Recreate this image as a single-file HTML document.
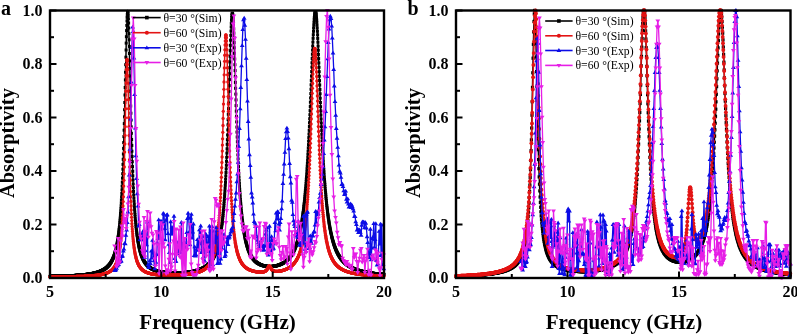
<!DOCTYPE html>
<html><head><meta charset="utf-8"><style>
html,body{margin:0;padding:0;background:#fff;}
svg{display:block;will-change:transform}
text{font-family:"Liberation Serif",serif;fill:#000}
.tl{font-size:16px;font-weight:bold}
.al{font-size:21px;font-weight:bold}
.al2{font-size:20.4px;font-weight:bold}
.pl{font-size:20px;font-weight:bold}
.lg{font-size:11.7px}
</style></head><body>
<svg width="797" height="334" viewBox="0 0 797 334">
<rect width="797" height="334" fill="#fff"/>
<defs><marker id="m_sq" markerUnits="userSpaceOnUse" markerWidth="1" markerHeight="1" refX="0" refY="0" overflow="visible"><rect x="-1.5" y="-1.5" width="3.0" height="3.0" fill="#000"/></marker><marker id="m_ci" markerUnits="userSpaceOnUse" markerWidth="1" markerHeight="1" refX="0" refY="0" overflow="visible"><circle r="1.65" fill="#e31414"/></marker><marker id="m_sqb" markerUnits="userSpaceOnUse" markerWidth="1" markerHeight="1" refX="0" refY="0" overflow="visible"><rect x="-1.6" y="-1.6" width="3.2" height="3.2" fill="#000"/></marker><marker id="m_cib" markerUnits="userSpaceOnUse" markerWidth="1" markerHeight="1" refX="0" refY="0" overflow="visible"><circle r="1.95" fill="#e31414"/></marker><marker id="m_up" markerUnits="userSpaceOnUse" markerWidth="1" markerHeight="1" refX="0" refY="0" overflow="visible"><path d="M0,-2.3l2.4,3.9h-4.8z" fill="#0c0ce6"/></marker><marker id="m_dn" markerUnits="userSpaceOnUse" markerWidth="1" markerHeight="1" refX="0" refY="0" overflow="visible"><path d="M0,2.3l2.4,-3.9h-4.8z" fill="#e61ee6"/></marker><clipPath id="ca"><rect x="50.0" y="9.5" width="334.0" height="268.5"/></clipPath>
<clipPath id="cb"><rect x="456.0" y="9.5" width="334.5" height="268.5"/></clipPath></defs>
<g>
<path d="M50,276.4l.2,0 .2,0 .1,0 .2,0 .2,0 .2,0 .1,-.1 .2,0 .2,0 .2,0 .2,0 .1,0 .2,0 .2,0 .2,0 .2,0 .1,0 .2,0 .2,0 .2,0 .1,0 .2,0 .2,0 .2,0 .2,0 .1,0 .2,0 .2,0 .2,0 .1,-.1 .2,0 .2,0 .2,0 .2,0 .1,0 .2,0 .2,0 .2,0 .1,0 .2,0 .2,0 .2,0 .2,0 .1,0 .2,0 .2,0 .2,0 .2,0 .1,0 .2,-.1 .2,0 .2,0 .1,0 .2,0 .2,0 .2,0 .2,0 .1,0 .2,0 .2,0 .2,0 .1,0 .2,0 .2,0 .2,0 .2,0 .1,0 .2,-.1 .2,0 .2,0 .1,0 .2,0 .2,0 .2,0 .2,0 .1,0 .2,0 .2,0 .2,0 .2,0 .1,0 .2,0 .2,-.1 .2,0 .1,0 .2,0 .2,0 .2,0 .2,0 .1,0 .2,0 .2,0 .2,0 .1,0 .2,0 .2,0 .2,-.1 .2,0 .1,0 .2,0 .2,0 .2,0 .1,0 .2,0 .2,0 .2,0 .2,0 .1,0 .2,0 .2,-.1 .2,0 .2,0 .1,0 .2,0 .2,0 .2,0 .1,0 .2,0 .2,0 .2,0 .2,-.1 .1,0 .2,0 .2,0 .2,0 .1,0 .2,0 .2,0 .2,0 .2,0 .1,-.1 .2,0 .2,0 .2,0 .1,0 .2,0 .2,0 .2,0 .2,0 .1,0 .2,-.1 .2,0 .2,0 .2,0 .1,0 .2,0 .2,0 .2,0 .1,-.1 .2,0 .2,0 .2,0 .2,0 .1,0 .2,0 .2,0 .2,-.1 .1,0 .2,0 .2,0 .2,0 .2,0 .1,0 .2,-.1 .2,0 .2,0 .1,0 .2,0 .2,0 .2,0 .2,-.1 .1,0 .2,0 .2,0 .2,0 .2,0 .1,0 .2,-.1 .2,0 .2,0 .1,0 .2,0 .2,0 .2,-.1 .2,0 .1,0 .2,0 .2,0 .2,-.1 .1,0 .2,0 .2,0 .2,0 .2,-.1 .1,0 .2,0 .2,0 .2,0 .1,-.1 .2,0 .2,0 .2,0 .2,0 .1,-.1 .2,0 .2,0 .2,0 .2,-.1 .1,0 .2,0 .2,0 .2,0 .1,-.1 .2,0 .2,0 .2,0 .2,-.1 .1,0 .2,0 .2,-.1 .2,0 .1,0 .2,0 .2,-.1 .2,0 .2,0 .1,-.1 .2,0 .2,0 .2,0 .1,-.1 .2,0 .2,0 .2,-.1 .2,0 .1,0 .2,-.1 .2,0 .2,0 .2,-.1 .1,0 .2,-.1 .2,0 .2,0 .1,-.1 .2,0 .2,0 .2,-.1 .2,0 .1,-.1 .2,0 .2,0 .2,-.1 .1,0 .2,-.1 .2,0 .2,-.1 .2,0 .1,-.1 .2,0 .2,-.1 .2,0 .1,-.1 .2,0 .2,-.1 .2,0 .2,-.1 .1,0 .2,-.1 .2,0 .2,-.1 .2,-.1 .1,0 .2,-.1 .2,0 .2,-.1 .1,-.1 .2,0 .2,-.1 .2,-.1 .2,0 .1,-.1 .2,-.1 .2,-.1 .2,0 .1,-.1 .2,-.1 .2,-.1 .2,-.1 .2,0 .1,-.1 .2,-.1 .2,-.1 .2,-.1 .1,-.1 .2,-.1 .2,-.1 .2,-.1 .2,-.1 .1,-.1 .2,-.1 .2,-.1 .2,-.1 .2,-.1 .1,-.1 .2,-.1 .2,-.1 .2,-.1 .1,-.2 .2,-.1 .2,-.1 .2,-.2 .2,-.1 .1,-.1 .2,-.2 .2,-.1 .2,-.2 .1,-.1 .2,-.2 .2,-.1 .2,-.2 .2,-.2 .1,-.1 .2,-.2 .2,-.2 .2,-.2 .1,-.2 .2,-.1 .2,-.2 .2,-.2 .2,-.3 .1,-.2 .2,-.2 .2,-.2 .2,-.3 .2,-.2 .1,-.2 .2,-.3 .2,-.3 .2,-.2 .1,-.3 .2,-.3 .2,-.3 .2,-.3 .2,-.3 .1,-.3 .2,-.3 .2,-.4 .2,-.3 .1,-.4 .2,-.4 .2,-.4 .2,-.4 .2,-.4 .1,-.4 .2,-.4 .2,-.5 .2,-.5 .1,-.4 .2,-.5 .2,-.6 .2,-.5 .2,-.6 .1,-.6 .2,-.6 .2,-.6 .2,-.6 .2,-.7 .1,-.7 .2,-.7 .2,-.8 .2,-.8 .1,-.8 .2,-.9 .2,-.9 .2,-.9 .2,-1 .1,-1 .2,-1 .2,-1.1 .2,-1.2 .1,-1.2 .2,-1.2 .2,-1.3 .2,-1.4 .2,-1.4 .1,-1.5 .2,-1.6 .2,-1.7 .2,-1.7 .2,-1.8 .1,-1.9 .2,-2 .2,-2.1 .2,-2.2 .1,-2.4 .2,-2.4 .2,-2.6 .2,-2.7 .2,-2.9 .1,-3 .2,-3.2 .2,-3.3 .2,-3.6 .1,-3.7 .2,-3.9 .2,-4.1 .2,-4.4 .2,-4.5 .1,-4.8 .2,-5.1 .2,-5.3 .2,-5.6 .1,-5.8 .2,-6 .2,-6.4 .2,-6.6 .2,-6.8 .1,-7.1 .2,-7.2 .2,-7.5 .2,-7.5 .2,-7.6 .1,-7.7 .2,-7.5 .2,-7.5 .2,-7.2 .1,-6.9 .2,-6.4 .2,-6.1 .2,-5.2 .2,-4.5 .1,-3.6 .2,-2.9 .2,-1.9 .2,-.7 .1,.3 .2,1.3 .2,2.3 .2,3.1 .2,4.2 .1,5 .2,5.6 .2,6.2 .2,6.6 .1,7.1 .2,7.4 .2,7.5 .2,7.6 .2,7.6 .1,7.6 .2,7.5 .2,7.3 .2,7.2 .2,6.9 .1,6.7 .2,6.5 .2,6.2 .2,5.9 .1,5.8 .2,5.3 .2,5.2 .2,4.9 .2,4.7 .1,4.5 .2,4.2 .2,4 .2,3.8 .1,3.6 .2,3.5 .2,3.2 .2,3.1 .2,2.9 .1,2.8 .2,2.7 .2,2.5 .2,2.4 .1,2.2 .2,2.2 .2,2.1 .2,1.9 .2,1.8 .1,1.8 .2,1.7 .2,1.6 .2,1.5 .2,1.5 .1,1.4 .2,1.3 .2,1.3 .2,1.2 .1,1.2 .2,1.1 .2,1.1 .2,1 .2,1 .1,.9 .2,.9 .2,.9 .2,.8 .1,.8 .2,.8 .2,.7 .2,.7 .2,.7 .1,.7 .2,.6 .2,.6 .2,.6 .1,.6 .2,.5 .2,.6 .2,.5 .2,.5 .1,.4 .2,.5 .2,.4 .2,.4 .2,.5 .1,.4 .2,.3 .2,.4 .2,.4 .1,.3 .2,.4 .2,.3 .2,.3 .2,.3 .1,.3 .2,.3 .2,.3 .2,.3 .1,.2 .2,.3 .2,.3 .2,.2 .2,.2 .1,.3 .2,.2 .2,.2 .2,.2 .1,.2 .2,.2 .2,.2 .2,.2 .2,.2 .1,.2 .2,.1 .2,.2 .2,.2 .2,.1 .1,.2 .2,.2 .2,.1 .2,.2 .1,.1 .2,.1 .2,.2 .2,.1 .2,.1 .1,.2 .2,.1 .2,.1 .2,.1 .1,.1 .2,.1 .2,.1 .2,.2 .2,.1 .1,.1 .2,.1 .2,.1 .2,.1 .1,0 .2,.1 .2,.1 .2,.1 .2,.1 .1,.1 .2,.1 .2,0 .2,.1 .2,.1 .1,.1 .2,0 .2,.1 .2,.1 .1,0 .2,.1 .2,.1 .2,0 .2,.1 .1,.1 .2,0 .2,.1 .2,0 .1,.1 .2,0 .2,.1 .2,.1 .2,0 .1,.1 .2,0 .2,.1 .2,0 .1,0 .2,.1 .2,0 .2,.1 .2,0 .1,.1 .2,0 .2,0 .2,.1 .2,0 .1,.1 .2,0 .2,0 .2,.1 .1,0 .2,0 .2,.1 .2,0 .2,0 .1,.1 .2,0 .2,0 .2,.1 .1,0 .2,0 .2,0 .2,.1 .2,0 .1,0 .2,0 .2,.1 .2,0 .1,0 .2,0 .2,.1 .2,0 .2,0 .1,0 .2,0 .2,.1 .2,0 .2,0 .1,0 .2,0 .2,.1 .2,0 .1,0 .2,0 .2,0 .2,0 .2,.1 .1,0 .2,0 .2,0 .2,0 .1,0 .2,0 .2,0 .2,.1 .2,0 .1,0 .2,0 .2,0 .2,0 .1,0 .2,0 .2,0 .2,.1 .2,0 .1,0 .2,0 .2,0 .2,0 .2,0 .1,0 .2,0 .2,0 .2,0 .1,0 .2,0 .2,0 .2,0 .2,0 .1,0 .2,0 .2,.1 .2,0 .1,0 .2,0 .2,0 .2,0 .2,0 .1,0 .2,0 .2,0 .2,0 .1,0 .2,0 .2,0 .2,0 .2,0 .1,0 .2,0 .2,0 .2,0 .2,0 .1,-.1 .2,0 .2,0 .2,0 .1,0 .2,0 .2,0 .2,0 .2,0 .1,0 .2,0 .2,0 .2,0 .1,0 .2,0 .2,0 .2,0 .2,0 .1,-.1 .2,0 .2,0 .2,0 .1,0 .2,0 .2,0 .2,0 .2,0 .1,0 .2,0 .2,-.1 .2,0 .2,0 .1,0 .2,0 .2,0 .2,0 .1,0 .2,-.1 .2,0 .2,0 .2,0 .1,0 .2,0 .2,0 .2,-.1 .1,0 .2,0 .2,0 .2,0 .2,0 .1,-.1 .2,0 .2,0 .2,0 .2,0 .1,-.1 .2,0 .2,0 .2,0 .1,0 .2,-.1 .2,0 .2,0 .2,0 .1,-.1 .2,0 .2,0 .2,0 .1,0 .2,-.1 .2,0 .2,0 .2,-.1 .1,0 .2,0 .2,0 .2,-.1 .1,0 .2,0 .2,0 .2,-.1 .2,0 .1,0 .2,-.1 .2,0 .2,0 .2,-.1 .1,0 .2,0 .2,-.1 .2,0 .1,0 .2,-.1 .2,0 .2,-.1 .2,0 .1,0 .2,-.1 .2,0 .2,0 .1,-.1 .2,0 .2,-.1 .2,0 .2,-.1 .1,0 .2,-.1 .2,0 .2,0 .1,-.1 .2,0 .2,-.1 .2,0 .2,-.1 .1,0 .2,-.1 .2,0 .2,-.1 .2,-.1 .1,0 .2,-.1 .2,0 .2,-.1 .1,0 .2,-.1 .2,-.1 .2,0 .2,-.1 .1,-.1 .2,0 .2,-.1 .2,-.1 .1,0 .2,-.1 .2,-.1 .2,0 .2,-.1 .1,-.1 .2,-.1 .2,0 .2,-.1 .1,-.1 .2,-.1 .2,-.1 .2,-.1 .2,0 .1,-.1 .2,-.1 .2,-.1 .2,-.1 .2,-.1 .1,-.1 .2,-.1 .2,-.1 .2,-.1 .1,-.1 .2,-.1 .2,-.1 .2,-.1 .2,-.1 .1,-.2 .2,-.1 .2,-.1 .2,-.1 .1,-.1 .2,-.2 .2,-.1 .2,-.1 .2,-.2 .1,-.1 .2,-.1 .2,-.2 .2,-.1 .1,-.2 .2,-.1 .2,-.2 .2,-.1 .2,-.2 .1,-.2 .2,-.1 .2,-.2 .2,-.2 .2,-.2 .1,-.1 .2,-.2 .2,-.2 .2,-.2 .1,-.2 .2,-.2 .2,-.2 .2,-.2 .2,-.3 .1,-.2 .2,-.2 .2,-.3 .2,-.2 .1,-.2 .2,-.3 .2,-.2 .2,-.3 .2,-.3 .1,-.3 .2,-.2 .2,-.3 .2,-.3 .1,-.3 .2,-.4 .2,-.3 .2,-.3 .2,-.4 .1,-.3 .2,-.4 .2,-.3 .2,-.4 .2,-.4 .1,-.4 .2,-.4 .2,-.4 .2,-.5 .1,-.4 .2,-.5 .2,-.5 .2,-.5 .2,-.5 .1,-.5 .2,-.5 .2,-.6 .2,-.5 .1,-.6 .2,-.6 .2,-.6 .2,-.7 .2,-.6 .1,-.7 .2,-.7 .2,-.8 .2,-.7 .1,-.8 .2,-.8 .2,-.8 .2,-.9 .2,-.9 .1,-.9 .2,-.9 .2,-1 .2,-1 .2,-1.1 .1,-1.1 .2,-1.1 .2,-1.2 .2,-1.2 .1,-1.3 .2,-1.3 .2,-1.4 .2,-1.4 .2,-1.5 .1,-1.5 .2,-1.6 .2,-1.7 .2,-1.7 .1,-1.8 .2,-1.9 .2,-1.9 .2,-2 .2,-2.2 .1,-2.1 .2,-2.3 .2,-2.4 .2,-2.5 .1,-2.6 .2,-2.7 .2,-2.8 .2,-2.9 .2,-3 .1,-3.2 .2,-3.3 .2,-3.4 .2,-3.6 .2,-3.7 .1,-3.9 .2,-4 .2,-4.2 .2,-4.3 .1,-4.5 .2,-4.6 .2,-4.8 .2,-5 .2,-5.1 .1,-5.2 .2,-5.4 .2,-5.6 .2,-5.6 .1,-5.7 .2,-5.9 .2,-5.8 .2,-6 .2,-5.9 .1,-5.9 .2,-5.8 .2,-5.7 .2,-5.6 .1,-5.3 .2,-5.2 .2,-4.8 .2,-4.4 .2,-4.1 .1,-3.6 .2,-3.1 .2,-2.7 .2,-1.9 .2,-1.4 .1,-.8 .2,-.2 .2,.4 .2,1.2 .1,1.7 .2,2.3 .2,2.8 .2,3.3 .2,3.9 .1,4.3 .2,4.6 .2,4.9 .2,5.2 .1,5.5 .2,5.7 .2,5.7 .2,5.9 .2,5.9 .1,5.9 .2,5.9 .2,5.8 .2,5.8 .1,5.7 .2,5.5 .2,5.5 .2,5.3 .2,5.2 .1,5 .2,4.9 .2,4.7 .2,4.5 .2,4.4 .1,4.3 .2,4 .2,3.9 .2,3.8 .1,3.7 .2,3.5 .2,3.3 .2,3.2 .2,3.1 .1,3 .2,2.8 .2,2.8 .2,2.6 .1,2.5 .2,2.4 .2,2.3 .2,2.2 .2,2.2 .1,2 .2,2 .2,1.9 .2,1.8 .1,1.7 .2,1.7 .2,1.6 .2,1.6 .2,1.5 .1,1.4 .2,1.4 .2,1.3 .2,1.3 .2,1.2 .1,1.2 .2,1.2 .2,1.1 .2,1 .1,1.1 .2,1 .2,.9 .2,.9 .2,.9 .1,.9 .2,.8 .2,.8 .2,.8 .1,.7 .2,.8 .2,.7 .2,.6 .2,.7 .1,.6 .2,.7 .2,.5 .2,.6 .1,.6 .2,.5 .2,.6 .2,.5 .2,.5 .1,.4 .2,.5 .2,.5 .2,.4 .2,.4 .1,.4 .2,.4 .2,.4 .2,.4 .1,.4 .2,.3 .2,.4 .2,.3 .2,.3 .1,.4 .2,.3 .2,.3 .2,.3 .1,.2 .2,.3 .2,.3 .2,.3 .2,.2 .1,.3 .2,.2 .2,.2 .2,.3 .2,.2 .1,.2 .2,.2 .2,.2 .2,.2 .1,.2 .2,.2 .2,.2 .2,.2 .2,.2 .1,.2 .2,.1 .2,.2 .2,.1 .1,.2 .2,.2 .2,.1 .2,.2 .2,.1 .1,.1 .2,.2 .2,.1 .2,.1 .1,.2 .2,.1 .2,.1 .2,.1 .2,.1 .1,.1 .2,.1 .2,.1 .2,.1 .2,.1 .1,.1 .2,.1 .2,.1 .2,.1 .1,.1 .2,.1 .2,.1 .2,0 .2,.1 .1,.1 .2,.1 .2,0 .2,.1 .1,.1 .2,0 .2,.1 .2,.1 .2,0 .1,.1 .2,0 .2,.1 .2,.1 .1,0 .2,.1 .2,0 .2,.1 .2,0 .1,0 .2,.1 .2,0 .2,.1 .2,0 .1,0 .2,.1 .2,0 .2,0 .1,.1 .2,0 .2,0 .2,0 .2,.1 .1,0 .2,0 .2,0 .2,.1 .1,0 .2,0 .2,0 .2,0 .2,0 .1,.1 .2,0 .2,0 .2,0 .1,0 .2,0 .2,0 .2,0 .2,0 .1,0 .2,0 .2,0 .2,0 .2,0 .1,0 .2,0 .2,0 .2,0 .1,0 .2,0 .2,0 .2,-.1 .2,0 .1,0 .2,0 .2,0 .2,0 .1,0 .2,-.1 .2,0 .2,0 .2,0 .1,-.1 .2,0 .2,0 .2,0 .1,-.1 .2,0 .2,0 .2,-.1 .2,0 .1,0 .2,-.1 .2,0 .2,0 .2,-.1 .1,0 .2,-.1 .2,0 .2,-.1 .1,0 .2,0 .2,-.1 .2,0 .2,-.1 .1,0 .2,-.1 .2,-.1 .2,0 .1,-.1 .2,0 .2,-.1 .2,-.1 .2,0 .1,-.1 .2,-.1 .2,0 .2,-.1 .1,-.1 .2,0 .2,-.1 .2,-.1 .2,-.1 .1,0 .2,-.1 .2,-.1 .2,-.1 .2,-.1 .1,-.1 .2,-.1 .2,-.1 .2,-.1 .1,-.1 .2,0 .2,-.2 .2,-.1 .2,-.1 .1,-.1 .2,-.1 .2,-.1 .2,-.1 .1,-.1 .2,-.1 .2,-.2 .2,-.1 .2,-.1 .1,-.1 .2,-.2 .2,-.1 .2,-.1 .1,-.2 .2,-.1 .2,-.2 .2,-.1 .2,-.2 .1,-.1 .2,-.2 .2,-.1 .2,-.2 .2,-.2 .1,-.1 .2,-.2 .2,-.2 .2,-.2 .1,-.1 .2,-.2 .2,-.2 .2,-.2 .2,-.2 .1,-.2 .2,-.2 .2,-.2 .2,-.2 .1,-.3 .2,-.2 .2,-.2 .2,-.3 .2,-.2 .1,-.2 .2,-.3 .2,-.3 .2,-.2 .1,-.3 .2,-.3 .2,-.2 .2,-.3 .2,-.3 .1,-.3 .2,-.3 .2,-.3 .2,-.3 .2,-.4 .1,-.3 .2,-.3 .2,-.4 .2,-.3 .1,-.4 .2,-.4 .2,-.3 .2,-.4 .2,-.4 .1,-.4 .2,-.5 .2,-.4 .2,-.4 .1,-.5 .2,-.4 .2,-.5 .2,-.5 .2,-.5 .1,-.5 .2,-.5 .2,-.5 .2,-.6 .1,-.5 .2,-.6 .2,-.6 .2,-.6 .2,-.6 .1,-.6 .2,-.7 .2,-.6 .2,-.7 .2,-.7 .1,-.7 .2,-.8 .2,-.7 .2,-.8 .1,-.8 .2,-.8 .2,-.9 .2,-.8 .2,-.9 .1,-.9 .2,-1 .2,-1 .2,-.9 .1,-1.1 .2,-1 .2,-1.1 .2,-1.1 .2,-1.2 .1,-1.2 .2,-1.2 .2,-1.2 .2,-1.3 .1,-1.4 .2,-1.3 .2,-1.5 .2,-1.4 .2,-1.5 .1,-1.6 .2,-1.6 .2,-1.6 .2,-1.7 .2,-1.7 .1,-1.8 .2,-1.9 .2,-1.9 .2,-2 .1,-2 .2,-2.1 .2,-2.2 .2,-2.2 .2,-2.3 .1,-2.4 .2,-2.4 .2,-2.5 .2,-2.6 .1,-2.7 .2,-2.7 .2,-2.8 .2,-3 .2,-3 .1,-3.1 .2,-3.1 .2,-3.3 .2,-3.3 .1,-3.5 .2,-3.5 .2,-3.6 .2,-3.7 .2,-3.8 .1,-3.8 .2,-4 .2,-4 .2,-4.1 .2,-4.1 .1,-4.3 .2,-4.3 .2,-4.3 .2,-4.4 .1,-4.4 .2,-4.4 .2,-4.4 .2,-4.5 .2,-4.4 .1,-4.3 .2,-4.3 .2,-4.3 .2,-4.2 .1,-4 .2,-3.9 .2,-3.8 .2,-3.6 .2,-3.4 .1,-3.3 .2,-2.9 .2,-2.7 .2,-2.5 .1,-2.2 .2,-1.9 .2,-1.5 .2,-1.1 .2,-.9 .1,-.6 .2,-.2 .2,.3 .2,.5 .2,.9 .1,1.2 .2,1.5 .2,1.9 .2,2.2 .1,2.4 .2,2.8 .2,2.9 .2,3.2 .2,3.5 .1,3.6 .2,3.8 .2,3.9 .2,4.1 .1,4.2 .2,4.2 .2,4.3 .2,4.4 .2,4.4 .1,4.5 .2,4.4 .2,4.4 .2,4.5 .2,4.3 .1,4.4 .2,4.3 .2,4.2 .2,4.2 .1,4.1 .2,4 .2,4 .2,3.8 .2,3.8 .1,3.7 .2,3.7 .2,3.5 .2,3.4 .1,3.4 .2,3.3 .2,3.1 .2,3.1 .2,3 .1,3 .2,2.8 .2,2.8 .2,2.6 .1,2.6 .2,2.6 .2,2.4 .2,2.4 .2,2.3 .1,2.2 .2,2.2 .2,2.1 .2,2 .2,2 .1,2 .2,1.8 .2,1.8 .2,1.8 .1,1.7 .2,1.6 .2,1.7 .2,1.5 .2,1.5 .1,1.5 .2,1.4 .2,1.4 .2,1.3 .1,1.3 .2,1.3 .2,1.2 .2,1.2 .2,1.2 .1,1.1 .2,1.1 .2,1.1 .2,1 .1,1 .2,1 .2,.9 .2,1 .2,.9 .1,.9 .2,.8 .2,.8 .2,.9 .2,.7 .1,.8 .2,.8 .2,.7 .2,.7 .1,.7 .2,.7 .2,.6 .2,.7 .2,.6 .1,.6 .2,.6 .2,.6 .2,.6 .1,.5 .2,.6 .2,.5 .2,.5 .2,.5 .1,.5 .2,.5 .2,.4 .2,.5 .1,.5 .2,.4 .2,.4 .2,.4 .2,.5 .1,.4 .2,.3 .2,.4 .2,.4 .2,.4 .1,.3 .2,.4 .2,.3 .2,.4 .1,.3 .2,.3 .2,.3 .2,.4 .2,.3 .1,.3 .2,.2 .2,.3 .2,.3 .1,.3 .2,.3 .2,.2 .2,.3 .2,.2 .1,.3 .2,.2 .2,.3 .2,.2 .1,.2 .2,.3 .2,.2 .2,.2 .2,.2 .1,.2 .2,.2 .2,.2 .2,.2 .2,.2 .1,.2 .2,.2 .2,.2 .2,.2 .1,.2 .2,.2 .2,.1 .2,.2 .2,.2 .1,.1 .2,.2 .2,.1 .2,.2 .1,.2 .2,.1 .2,.2 .2,.1 .2,.2 .1,.1 .2,.1 .2,.2 .2,.1 .1,.1 .2,.2 .2,.1 .2,.1 .2,.2 .1,.1 .2,.1 .2,.1 .2,.1 .2,.2 .1,.1 .2,.1 .2,.1 .2,.1 .1,.1 .2,.1 .2,.1 .2,.1 .2,.1 .1,.1 .2,.1 .2,.1 .2,.1 .1,.1 .2,.1 .2,.1 .2,.1 .2,.1 .1,.1 .2,.1 .2,0 .2,.1 .1,.1 .2,.1 .2,.1 .2,0 .2,.1 .1,.1 .2,.1 .2,.1 .2,0 .2,.1 .1,.1 .2,.1 .2,0 .2,.1 .1,.1 .2,0 .2,.1 .2,.1 .2,0 .1,.1 .2,.1 .2,0 .2,.1 .1,.1 .2,0 .2,.1 .2,0 .2,.1 .1,.1 .2,0 .2,.1 .2,0 .1,.1 .2,0 .2,.1 .2,0 .2,.1 .1,0 .2,.1 .2,.1 .2,0 .2,.1 .1,0 .2,0 .2,.1 .2,0 .1,.1 .2,0 .2,.1 .2,0 .2,.1 .1,0 .2,.1 .2,0 .2,.1 .1,0 .2,0 .2,.1 .2,0 .2,.1 .1,0 .2,0 .2,.1 .2,0 .1,.1 .2,0 .2,0 .2,.1 .2,0 .1,.1 .2,0 .2,0 .2,.1 .2,0 .1,0 .2,.1 .2,0 .2,0 .1,.1 .2,0 .2,0 .2,.1 .2,0 .1,0 .2,.1 .2,0 .2,0 .1,.1 .2,0 .2,0 .2,0 .2,.1 .1,0 .2,0 .2,.1 .2,0 .1,0 .2,0 .2,.1 .2,0 .2,0 .1,.1 .2,0 .2,0 .2,0 .2,.1 .1,0 .2,0 .2,0 .2,.1 .1,0 .2,0 .2,0 .2,.1 .2,0 .1,0 .2,0 .2,.1 .2,0 .1,0 .2,0 .2,.1 .2,0 .2,0 .1,0 .2,0 .2,.1 .2,0 .1,0 .2,0 .2,0 .2,.1 .2,0 .1,0 .2,0 .2,0 .2,.1 .2,0 .1,0 .2,0 .2,0 .2,.1 .1,0 .2,0 .2,0 .2,0 .2,.1 .1,0 .2,0 .2,0 .2,0 .1,0 .2,.1 .2,0 .2,0 .2,0 .1,0 .2,.1 .2,0 .2,0 .1,0 .2,0 .2,0 .2,0 .2,.1 .1,0 .2,0 .2,0 .2,0 .2,0 .1,.1 .2,0 .2,0 .2,0 .1,0 .2,0 .2,0" fill="none" stroke="#000" stroke-width="1.5" marker-start="url(#m_sq)" marker-mid="url(#m_sq)" marker-end="url(#m_sq)"/>
<path d="M50,277l.2,0 .2,0 .1,0 .2,0 .2,0 .2,0 .1,0 .2,0 .2,0 .2,0 .2,0 .1,0 .2,0 .2,0 .2,0 .2,0 .1,0 .2,0 .2,-.1 .2,0 .1,0 .2,0 .2,0 .2,0 .2,0 .1,0 .2,0 .2,0 .2,0 .1,0 .2,0 .2,0 .2,0 .2,0 .1,0 .2,0 .2,0 .2,0 .1,0 .2,0 .2,0 .2,0 .2,0 .1,0 .2,0 .2,0 .2,0 .2,0 .1,0 .2,0 .2,0 .2,0 .1,0 .2,0 .2,0 .2,0 .2,0 .1,0 .2,0 .2,0 .2,0 .1,0 .2,0 .2,0 .2,-.1 .2,0 .1,0 .2,0 .2,0 .2,0 .1,0 .2,0 .2,0 .2,0 .2,0 .1,0 .2,0 .2,0 .2,0 .2,0 .1,0 .2,0 .2,0 .2,0 .1,0 .2,0 .2,0 .2,0 .2,0 .1,0 .2,0 .2,0 .2,0 .1,0 .2,0 .2,0 .2,0 .2,0 .1,0 .2,-.1 .2,0 .2,0 .1,0 .2,0 .2,0 .2,0 .2,0 .1,0 .2,0 .2,0 .2,0 .2,0 .1,0 .2,0 .2,0 .2,0 .1,0 .2,0 .2,0 .2,0 .2,0 .1,0 .2,0 .2,0 .2,0 .1,-.1 .2,0 .2,0 .2,0 .2,0 .1,0 .2,0 .2,0 .2,0 .1,0 .2,0 .2,0 .2,0 .2,0 .1,0 .2,0 .2,0 .2,0 .2,0 .1,0 .2,0 .2,0 .2,-.1 .1,0 .2,0 .2,0 .2,0 .2,0 .1,0 .2,0 .2,0 .2,0 .1,0 .2,0 .2,0 .2,0 .2,0 .1,0 .2,0 .2,0 .2,-.1 .1,0 .2,0 .2,0 .2,0 .2,0 .1,0 .2,0 .2,0 .2,0 .2,0 .1,0 .2,0 .2,0 .2,0 .1,-.1 .2,0 .2,0 .2,0 .2,0 .1,0 .2,0 .2,0 .2,0 .1,0 .2,0 .2,0 .2,0 .2,-.1 .1,0 .2,0 .2,0 .2,0 .1,0 .2,0 .2,0 .2,0 .2,0 .1,0 .2,-.1 .2,0 .2,0 .2,0 .1,0 .2,0 .2,0 .2,0 .1,0 .2,0 .2,-.1 .2,0 .2,0 .1,0 .2,0 .2,0 .2,0 .1,0 .2,0 .2,-.1 .2,0 .2,0 .1,0 .2,0 .2,0 .2,0 .1,0 .2,-.1 .2,0 .2,0 .2,0 .1,0 .2,0 .2,0 .2,-.1 .2,0 .1,0 .2,0 .2,0 .2,0 .1,-.1 .2,0 .2,0 .2,0 .2,0 .1,0 .2,-.1 .2,0 .2,0 .1,0 .2,0 .2,-.1 .2,0 .2,0 .1,0 .2,0 .2,-.1 .2,0 .1,0 .2,0 .2,-.1 .2,0 .2,0 .1,0 .2,0 .2,-.1 .2,0 .2,0 .1,-.1 .2,0 .2,0 .2,0 .1,-.1 .2,0 .2,0 .2,0 .2,-.1 .1,0 .2,0 .2,-.1 .2,0 .1,0 .2,-.1 .2,0 .2,0 .2,-.1 .1,0 .2,-.1 .2,0 .2,0 .1,-.1 .2,0 .2,-.1 .2,0 .2,0 .1,-.1 .2,0 .2,-.1 .2,0 .2,-.1 .1,0 .2,-.1 .2,0 .2,-.1 .1,0 .2,-.1 .2,-.1 .2,0 .2,-.1 .1,0 .2,-.1 .2,-.1 .2,0 .1,-.1 .2,-.1 .2,0 .2,-.1 .2,-.1 .1,-.1 .2,-.1 .2,0 .2,-.1 .1,-.1 .2,-.1 .2,-.1 .2,-.1 .2,-.1 .1,-.1 .2,-.1 .2,-.1 .2,-.1 .2,-.1 .1,-.1 .2,-.1 .2,-.2 .2,-.1 .1,-.1 .2,-.2 .2,-.1 .2,-.1 .2,-.2 .1,-.1 .2,-.2 .2,-.2 .2,-.1 .1,-.2 .2,-.2 .2,-.2 .2,-.2 .2,-.2 .1,-.2 .2,-.2 .2,-.2 .2,-.2 .1,-.3 .2,-.2 .2,-.3 .2,-.3 .2,-.3 .1,-.3 .2,-.3 .2,-.3 .2,-.3 .2,-.4 .1,-.3 .2,-.4 .2,-.4 .2,-.4 .1,-.4 .2,-.5 .2,-.5 .2,-.5 .2,-.5 .1,-.5 .2,-.6 .2,-.6 .2,-.7 .1,-.6 .2,-.8 .2,-.7 .2,-.8 .2,-.8 .1,-.9 .2,-.9 .2,-1 .2,-1.1 .2,-1.1 .1,-1.2 .2,-1.2 .2,-1.3 .2,-1.5 .1,-1.5 .2,-1.6 .2,-1.7 .2,-1.9 .2,-1.9 .1,-2.2 .2,-2.3 .2,-2.4 .2,-2.6 .1,-2.8 .2,-3.1 .2,-3.3 .2,-3.5 .2,-3.8 .1,-4.1 .2,-4.4 .2,-4.8 .2,-5.1 .1,-5.6 .2,-5.8 .2,-6.5 .2,-6.8 .2,-7.3 .1,-7.6 .2,-8.1 .2,-8.5 .2,-8.8 .2,-8.9 .1,-9.1 .2,-8.9 .2,-8.6 .2,-8.1 .1,-7.3 .2,-6.3 .2,-5.1 .2,-3.3 .2,-1.6 .1,0 .2,1.6 .2,3.3 .2,5.1 .1,6.3 .2,7.3 .2,8 .2,8.6 .2,9 .1,9 .2,9 .2,8.8 .2,8.5 .1,8 .2,7.7 .2,7.2 .2,6.9 .2,6.4 .1,5.9 .2,5.5 .2,5.1 .2,4.8 .2,4.5 .1,4 .2,3.8 .2,3.5 .2,3.3 .1,3.1 .2,2.8 .2,2.6 .2,2.4 .2,2.3 .1,2.2 .2,1.9 .2,1.8 .2,1.8 .1,1.6 .2,1.5 .2,1.4 .2,1.4 .2,1.2 .1,1.2 .2,1.1 .2,1 .2,1 .1,.9 .2,.9 .2,.9 .2,.7 .2,.8 .1,.7 .2,.7 .2,.6 .2,.6 .2,.6 .1,.5 .2,.5 .2,.5 .2,.5 .1,.5 .2,.4 .2,.4 .2,.4 .2,.4 .1,.3 .2,.4 .2,.3 .2,.3 .1,.3 .2,.3 .2,.3 .2,.3 .2,.2 .1,.3 .2,.2 .2,.2 .2,.3 .1,.2 .2,.2 .2,.2 .2,.2 .2,.1 .1,.2 .2,.2 .2,.2 .2,.1 .2,.2 .1,.1 .2,.2 .2,.1 .2,.1 .1,.2 .2,.1 .2,.1 .2,.1 .2,.2 .1,.1 .2,.1 .2,.1 .2,.1 .1,.1 .2,.1 .2,.1 .2,.1 .2,0 .1,.1 .2,.1 .2,.1 .2,.1 .1,.1 .2,0 .2,.1 .2,.1 .2,0 .1,.1 .2,.1 .2,0 .2,.1 .2,0 .1,.1 .2,.1 .2,0 .2,.1 .1,0 .2,.1 .2,0 .2,.1 .2,0 .1,.1 .2,0 .2,.1 .2,0 .1,0 .2,.1 .2,0 .2,.1 .2,0 .1,0 .2,.1 .2,0 .2,0 .1,.1 .2,0 .2,0 .2,.1 .2,0 .1,0 .2,.1 .2,0 .2,0 .2,0 .1,.1 .2,0 .2,0 .2,0 .1,.1 .2,0 .2,0 .2,0 .2,.1 .1,0 .2,0 .2,0 .2,0 .1,.1 .2,0 .2,0 .2,0 .2,0 .1,.1 .2,0 .2,0 .2,0 .1,0 .2,0 .2,0 .2,.1 .2,0 .1,0 .2,0 .2,0 .2,0 .2,0 .1,.1 .2,0 .2,0 .2,0 .1,0 .2,0 .2,0 .2,0 .2,0 .1,.1 .2,0 .2,0 .2,0 .1,0 .2,0 .2,0 .2,0 .2,0 .1,0 .2,0 .2,0 .2,0 .1,.1 .2,0 .2,0 .2,0 .2,0 .1,0 .2,0 .2,0 .2,0 .2,0 .1,0 .2,0 .2,0 .2,0 .1,0 .2,0 .2,0 .2,0 .2,0 .1,0 .2,0 .2,0 .2,0 .1,0 .2,.1 .2,0 .2,0 .2,0 .1,0 .2,0 .2,0 .2,0 .1,0 .2,0 .2,0 .2,0 .2,0 .1,0 .2,0 .2,0 .2,0 .2,0 .1,0 .2,0 .2,0 .2,0 .1,-.1 .2,0 .2,0 .2,0 .2,0 .1,0 .2,0 .2,0 .2,0 .1,0 .2,0 .2,0 .2,0 .2,0 .1,0 .2,0 .2,0 .2,0 .1,0 .2,0 .2,0 .2,0 .2,0 .1,0 .2,0 .2,0 .2,-.1 .2,0 .1,0 .2,0 .2,0 .2,0 .1,0 .2,0 .2,0 .2,0 .2,0 .1,0 .2,0 .2,0 .2,-.1 .1,0 .2,0 .2,0 .2,0 .2,0 .1,0 .2,0 .2,0 .2,0 .1,0 .2,-.1 .2,0 .2,0 .2,0 .1,0 .2,0 .2,0 .2,0 .2,0 .1,-.1 .2,0 .2,0 .2,0 .1,0 .2,0 .2,0 .2,-.1 .2,0 .1,0 .2,0 .2,0 .2,0 .1,0 .2,-.1 .2,0 .2,0 .2,0 .1,0 .2,0 .2,-.1 .2,0 .2,0 .1,0 .2,0 .2,0 .2,-.1 .1,0 .2,0 .2,0 .2,0 .2,-.1 .1,0 .2,0 .2,0 .2,0 .1,-.1 .2,0 .2,0 .2,0 .2,-.1 .1,0 .2,0 .2,0 .2,-.1 .1,0 .2,0 .2,0 .2,-.1 .2,0 .1,0 .2,-.1 .2,0 .2,0 .2,0 .1,-.1 .2,0 .2,0 .2,-.1 .1,0 .2,0 .2,-.1 .2,0 .2,0 .1,-.1 .2,0 .2,0 .2,-.1 .1,0 .2,-.1 .2,0 .2,0 .2,-.1 .1,0 .2,-.1 .2,0 .2,-.1 .1,0 .2,0 .2,-.1 .2,0 .2,-.1 .1,0 .2,-.1 .2,0 .2,-.1 .2,0 .1,-.1 .2,-.1 .2,0 .2,-.1 .1,0 .2,-.1 .2,0 .2,-.1 .2,-.1 .1,0 .2,-.1 .2,-.1 .2,0 .1,-.1 .2,-.1 .2,-.1 .2,0 .2,-.1 .1,-.1 .2,-.1 .2,0 .2,-.1 .1,-.1 .2,-.1 .2,-.1 .2,-.1 .2,-.1 .1,-.1 .2,-.1 .2,-.1 .2,-.1 .2,-.1 .1,-.1 .2,-.1 .2,-.1 .2,-.1 .1,-.1 .2,-.1 .2,-.2 .2,-.1 .2,-.1 .1,-.1 .2,-.2 .2,-.1 .2,-.2 .1,-.1 .2,-.2 .2,-.1 .2,-.2 .2,-.1 .1,-.2 .2,-.2 .2,-.1 .2,-.2 .1,-.2 .2,-.2 .2,-.2 .2,-.2 .2,-.2 .1,-.2 .2,-.2 .2,-.3 .2,-.2 .2,-.2 .1,-.3 .2,-.2 .2,-.3 .2,-.3 .1,-.2 .2,-.3 .2,-.3 .2,-.3 .2,-.3 .1,-.4 .2,-.3 .2,-.4 .2,-.3 .1,-.4 .2,-.4 .2,-.4 .2,-.4 .2,-.4 .1,-.5 .2,-.4 .2,-.5 .2,-.5 .1,-.5 .2,-.6 .2,-.5 .2,-.6 .2,-.6 .1,-.6 .2,-.7 .2,-.6 .2,-.7 .2,-.8 .1,-.8 .2,-.8 .2,-.8 .2,-.9 .1,-.9 .2,-.9 .2,-1 .2,-1.1 .2,-1.1 .1,-1.1 .2,-1.2 .2,-1.3 .2,-1.3 .1,-1.4 .2,-1.4 .2,-1.6 .2,-1.6 .2,-1.6 .1,-1.8 .2,-1.9 .2,-2 .2,-2.1 .1,-2.1 .2,-2.3 .2,-2.5 .2,-2.6 .2,-2.7 .1,-2.9 .2,-3 .2,-3.3 .2,-3.4 .2,-3.6 .1,-3.7 .2,-4 .2,-4.3 .2,-4.5 .1,-4.7 .2,-5 .2,-5.2 .2,-5.5 .2,-5.8 .1,-6 .2,-6.3 .2,-6.5 .2,-6.8 .1,-7 .2,-7.2 .2,-7.2 .2,-7.4 .2,-7.4 .1,-7.3 .2,-7.2 .2,-6.9 .2,-6.6 .1,-6.1 .2,-5.4 .2,-4.8 .2,-4.1 .2,-3.2 .1,-1.9 .2,-1 .2,0 .2,1 .2,1.9 .1,3.2 .2,4.1 .2,4.7 .2,5.5 .1,6 .2,6.6 .2,7 .2,7.1 .2,7.3 .1,7.4 .2,7.4 .2,7.3 .2,7.1 .1,7 .2,6.8 .2,6.5 .2,6.3 .2,6 .1,5.8 .2,5.5 .2,5.2 .2,5 .1,4.7 .2,4.5 .2,4.2 .2,4 .2,3.8 .1,3.6 .2,3.4 .2,3.2 .2,3 .2,2.9 .1,2.7 .2,2.6 .2,2.5 .2,2.3 .1,2.1 .2,2.1 .2,2 .2,1.9 .2,1.7 .1,1.7 .2,1.6 .2,1.5 .2,1.5 .1,1.4 .2,1.3 .2,1.2 .2,1.2 .2,1.2 .1,1 .2,1.1 .2,1 .2,.9 .1,.9 .2,.9 .2,.8 .2,.8 .2,.8 .1,.7 .2,.7 .2,.7 .2,.6 .2,.7 .1,.6 .2,.5 .2,.6 .2,.5 .1,.5 .2,.5 .2,.5 .2,.4 .2,.5 .1,.4 .2,.4 .2,.4 .2,.4 .1,.3 .2,.4 .2,.3 .2,.4 .2,.3 .1,.3 .2,.3 .2,.3 .2,.3 .1,.2 .2,.3 .2,.3 .2,.2 .2,.3 .1,.2 .2,.2 .2,.2 .2,.2 .2,.3 .1,.1 .2,.2 .2,.2 .2,.2 .1,.2 .2,.2 .2,.1 .2,.2 .2,.2 .1,.1 .2,.2 .2,.1 .2,.1 .1,.2 .2,.1 .2,.1 .2,.2 .2,.1 .1,.1 .2,.1 .2,.2 .2,.1 .1,.1 .2,.1 .2,.1 .2,.1 .2,.1 .1,.1 .2,.1 .2,.1 .2,0 .2,.1 .1,.1 .2,.1 .2,.1 .2,.1 .1,0 .2,.1 .2,.1 .2,0 .2,.1 .1,.1 .2,0 .2,.1 .2,.1 .1,0 .2,.1 .2,0 .2,.1 .2,.1 .1,0 .2,.1 .2,0 .2,.1 .2,0 .1,.1 .2,0 .2,0 .2,.1 .1,0 .2,.1 .2,0 .2,0 .2,.1 .1,0 .2,0 .2,.1 .2,0 .1,0 .2,.1 .2,0 .2,0 .2,.1 .1,0 .2,0 .2,0 .2,.1 .1,0 .2,0 .2,0 .2,0 .2,.1 .1,0 .2,0 .2,0 .2,0 .2,0 .1,0 .2,0 .2,.1 .2,0 .1,0 .2,0 .2,0 .2,0 .2,0 .1,0 .2,0 .2,0 .2,0 .1,0 .2,0 .2,0 .2,-.1 .2,0 .1,0 .2,0 .2,0 .2,-.1 .1,0 .2,0 .2,0 .2,-.1 .2,0 .1,-.1 .2,0 .2,-.1 .2,0 .2,-.1 .1,-.1 .2,-.1 .2,-.1 .2,-.1 .1,-.1 .2,-.1 .2,-.1 .2,-.2 .2,-.2 .1,-.1 .2,-.2 .2,-.3 .2,-.2 .1,-.3 .2,-.3 .2,-.3 .2,-.3 .2,-.3 .1,-.4 .2,-.3 .2,-.4 .2,-.3 .1,-.2 .2,-.3 .2,-.1 .2,-.1 .2,0 .1,.1 .2,.2 .2,.2 .2,.3 .2,.3 .1,.3 .2,.4 .2,.3 .2,.3 .1,.3 .2,.3 .2,.3 .2,.2 .2,.2 .1,.2 .2,.2 .2,.2 .2,.1 .1,.1 .2,.2 .2,.1 .2,.1 .2,0 .1,.1 .2,.1 .2,0 .2,.1 .1,0 .2,.1 .2,0 .2,0 .2,.1 .1,0 .2,0 .2,0 .2,0 .2,0 .1,0 .2,0 .2,0 .2,0 .1,0 .2,0 .2,0 .2,0 .2,0 .1,0 .2,-.1 .2,0 .2,0 .1,0 .2,0 .2,-.1 .2,0 .2,0 .1,0 .2,-.1 .2,0 .2,0 .1,-.1 .2,0 .2,0 .2,-.1 .2,0 .1,0 .2,-.1 .2,0 .2,-.1 .2,0 .1,0 .2,-.1 .2,0 .2,-.1 .1,0 .2,-.1 .2,0 .2,-.1 .2,0 .1,-.1 .2,-.1 .2,0 .2,-.1 .1,0 .2,-.1 .2,-.1 .2,0 .2,-.1 .1,-.1 .2,0 .2,-.1 .2,-.1 .1,0 .2,-.1 .2,-.1 .2,-.1 .2,-.1 .1,0 .2,-.1 .2,-.1 .2,-.1 .2,-.1 .1,-.1 .2,-.1 .2,-.1 .2,-.1 .1,-.1 .2,-.1 .2,-.1 .2,-.1 .2,-.1 .1,-.1 .2,-.1 .2,-.1 .2,-.1 .1,-.2 .2,-.1 .2,-.1 .2,-.1 .2,-.2 .1,-.1 .2,-.2 .2,-.1 .2,-.1 .1,-.2 .2,-.1 .2,-.2 .2,-.2 .2,-.1 .1,-.2 .2,-.2 .2,-.1 .2,-.2 .2,-.2 .1,-.2 .2,-.2 .2,-.2 .2,-.2 .1,-.2 .2,-.2 .2,-.2 .2,-.2 .2,-.3 .1,-.2 .2,-.2 .2,-.3 .2,-.2 .1,-.3 .2,-.3 .2,-.2 .2,-.3 .2,-.3 .1,-.3 .2,-.3 .2,-.3 .2,-.3 .1,-.4 .2,-.3 .2,-.3 .2,-.4 .2,-.4 .1,-.4 .2,-.3 .2,-.4 .2,-.5 .2,-.4 .1,-.4 .2,-.5 .2,-.4 .2,-.5 .1,-.5 .2,-.5 .2,-.6 .2,-.5 .2,-.6 .1,-.5 .2,-.6 .2,-.7 .2,-.6 .1,-.7 .2,-.7 .2,-.7 .2,-.7 .2,-.7 .1,-.8 .2,-.8 .2,-.9 .2,-.9 .1,-.8 .2,-1 .2,-1 .2,-1 .2,-1 .1,-1.1 .2,-1.1 .2,-1.2 .2,-1.2 .2,-1.2 .1,-1.3 .2,-1.4 .2,-1.4 .2,-1.5 .1,-1.5 .2,-1.6 .2,-1.7 .2,-1.7 .2,-1.8 .1,-1.9 .2,-1.9 .2,-2 .2,-2.1 .1,-2.2 .2,-2.3 .2,-2.4 .2,-2.5 .2,-2.6 .1,-2.7 .2,-2.8 .2,-2.9 .2,-3.1 .1,-3.2 .2,-3.3 .2,-3.4 .2,-3.5 .2,-3.8 .1,-3.8 .2,-4 .2,-4.1 .2,-4.2 .2,-4.4 .1,-4.5 .2,-4.7 .2,-4.7 .2,-4.9 .1,-5 .2,-5 .2,-5.1 .2,-5.1 .2,-5.2 .1,-5.2 .2,-5.1 .2,-5 .2,-4.9 .1,-4.8 .2,-4.5 .2,-4.4 .2,-4 .2,-3.7 .1,-3.4 .2,-2.9 .2,-2.5 .2,-2 .1,-1.5 .2,-1 .2,-.4 .2,.2 .2,.7 .1,1.2 .2,1.7 .2,2.3 .2,2.7 .2,3.2 .1,3.5 .2,3.9 .2,4.2 .2,4.5 .1,4.6 .2,4.9 .2,5 .2,5 .2,5.2 .1,5.1 .2,5.2 .2,5.1 .2,5.1 .1,5 .2,4.9 .2,4.8 .2,4.8 .2,4.5 .1,4.5 .2,4.3 .2,4.2 .2,4.1 .2,3.9 .1,3.7 .2,3.7 .2,3.5 .2,3.3 .1,3.3 .2,3.1 .2,3 .2,2.9 .2,2.7 .1,2.7 .2,2.5 .2,2.4 .2,2.4 .1,2.3 .2,2.1 .2,2.1 .2,2 .2,1.9 .1,1.8 .2,1.8 .2,1.7 .2,1.6 .1,1.6 .2,1.5 .2,1.4 .2,1.4 .2,1.3 .1,1.3 .2,1.3 .2,1.2 .2,1.1 .2,1.1 .1,1.1 .2,1 .2,1 .2,1 .1,.9 .2,.9 .2,.8 .2,.9 .2,.8 .1,.7 .2,.8 .2,.7 .2,.7 .1,.7 .2,.6 .2,.7 .2,.6 .2,.6 .1,.6 .2,.5 .2,.6 .2,.5 .1,.5 .2,.5 .2,.5 .2,.4 .2,.5 .1,.4 .2,.4 .2,.5 .2,.4 .2,.3 .1,.4 .2,.4 .2,.3 .2,.4 .1,.3 .2,.4 .2,.3 .2,.3 .2,.3 .1,.3 .2,.3 .2,.3 .2,.3 .1,.2 .2,.3 .2,.2 .2,.3 .2,.2 .1,.3 .2,.2 .2,.2 .2,.2 .1,.3 .2,.2 .2,.2 .2,.2 .2,.2 .1,.2 .2,.1 .2,.2 .2,.2 .2,.2 .1,.1 .2,.2 .2,.2 .2,.1 .1,.2 .2,.1 .2,.2 .2,.1 .2,.2 .1,.1 .2,.2 .2,.1 .2,.1 .1,.2 .2,.1 .2,.1 .2,.1 .2,.2 .1,.1 .2,.1 .2,.1 .2,.1 .1,.1 .2,.1 .2,.1 .2,.1 .2,.1 .1,.1 .2,.1 .2,.1 .2,.1 .2,.1 .1,.1 .2,.1 .2,.1 .2,.1 .1,.1 .2,0 .2,.1 .2,.1 .2,.1 .1,.1 .2,0 .2,.1 .2,.1 .1,0 .2,.1 .2,.1 .2,.1 .2,0 .1,.1 .2,.1 .2,0 .2,.1 .1,0 .2,.1 .2,.1 .2,0 .2,.1 .1,0 .2,.1 .2,.1 .2,0 .2,.1 .1,0 .2,.1 .2,0 .2,.1 .1,0 .2,.1 .2,0 .2,.1 .2,0 .1,.1 .2,0 .2,.1 .2,0 .1,0 .2,.1 .2,0 .2,.1 .2,0 .1,.1 .2,0 .2,0 .2,.1 .1,0 .2,0 .2,.1 .2,0 .2,.1 .1,0 .2,0 .2,.1 .2,0 .2,0 .1,.1 .2,0 .2,0 .2,.1 .1,0 .2,0 .2,.1 .2,0 .2,0 .1,.1 .2,0 .2,0 .2,0 .1,.1 .2,0 .2,0 .2,.1 .2,0 .1,0 .2,0 .2,.1 .2,0 .1,0 .2,0 .2,.1 .2,0 .2,0 .1,0 .2,.1 .2,0 .2,0 .2,0 .1,.1 .2,0 .2,0 .2,0 .1,.1 .2,0 .2,0 .2,0 .2,0 .1,.1 .2,0 .2,0 .2,0 .1,0 .2,.1 .2,0 .2,0 .2,0 .1,0 .2,.1 .2,0 .2,0 .1,0 .2,0 .2,0 .2,.1 .2,0 .1,0 .2,0 .2,0 .2,0 .2,.1 .1,0 .2,0 .2,0 .2,0 .1,0 .2,.1 .2,0 .2,0 .2,0 .1,0 .2,0 .2,0 .2,.1 .1,0 .2,0 .2,0 .2,0 .2,0 .1,0 .2,.1 .2,0 .2,0 .1,0 .2,0 .2,0 .2,0 .2,.1 .1,0 .2,0 .2,0 .2,0 .2,0 .1,0 .2,0 .2,0 .2,.1 .1,0 .2,0 .2,0 .2,0 .2,0 .1,0 .2,0 .2,0 .2,.1 .1,0 .2,0 .2,0 .2,0 .2,0 .1,0 .2,0 .2,0 .2,.1 .1,0 .2,0 .2,0 .2,0 .2,0 .1,0 .2,0 .2,0 .2,0 .2,0 .1,.1 .2,0 .2,0 .2,0 .1,0 .2,0 .2,0 .2,0 .2,0 .1,0 .2,0 .2,.1 .2,0 .1,0 .2,0 .2,0 .2,0 .2,0 .1,0 .2,0 .2,0 .2,0 .1,0 .2,0 .2,.1 .2,0 .2,0 .1,0 .2,0 .2,0 .2,0 .2,0 .1,0 .2,0 .2,0 .2,0 .1,0 .2,0 .2,.1" fill="none" stroke="#e31414" stroke-width="1.5" marker-start="url(#m_ci)" marker-mid="url(#m_ci)" marker-end="url(#m_ci)"/>
<path d="M114.6,270.2l.6,.1 .7,-.6 .7,-1.5 .6,-2.3 .7,-1.1 .7,-.3 .6,-2.1 .7,-.7 .7,-.4 .7,-.5 .6,-4.4 .7,-.5 .7,-5 .6,-1.9 .7,-5.7 .7,.4 .6,-8.5 .7,-5.2 .7,-7.5 .6,-10.6 .7,-15.3 .7,-21.7 .6,-25.8 .7,-30.1 .7,-37 .6,-34.7 .7,-20.3 .7,4.3 .6,26.6 .7,36.6 .7,33.5 .6,27.6 .7,22.7 .7,15.3 .7,12.3 .6,19.9 .7,-1.5 .7,15 .6,.1 .7,.2 .7,-5.9 .6,6 .7,-8.8 .7,20.5 .6,6 .7,-7.1 .7,-12.6 .6,6.9 .7,-22.8 .7,42.9 .6,2.2 .7,.4 .7,-6.9 .6,3.3 .7,-12.7 .7,7 .6,-17.9 .7,11.8 .7,8.7 .7,8 .6,-4.1 .7,-2.4 .7,-7.7 .6,-11.8 .7,-4.1 .7,-18.8 .6,17.9 .7,-8 .7,-8.2 .6,-.1 .7,7.4 .7,-5.4 .6,-10.1 .7,1 .7,14.1 .6,11.4 .7,-19.5 .7,-5.1 .6,-.5 .7,18.7 .7,10.9 .6,8.2 .7,10.1 .7,-40.9 .7,12 .6,-6.2 .7,6.4 .7,-6.2 .6,-11.5 .7,42.2 .7,3 .6,-.2 .7,-19.2 .7,7.1 .6,4.3 .7,-5.4 .7,-5.8 .6,9.8 .7,.8 .7,-30.5 .6,27.5 .7,-5.8 .7,13.4 .6,1.9 .7,-16.9 .7,1.9 .6,3.4 .7,-15.1 .7,-14.1 .7,-5.3 .6,4.3 .7,14.2 .7,13 .6,-26.7 .7,-3.7 .7,23.8 .6,-6.2 .7,-7.9 .7,31.6 .6,-8.8 .7,9.2 .7,-1.1 .6,-5.7 .7,-9.6 .7,10.6 .6,-6.5 .7,-13.9 .7,13.8 .6,-17.6 .7,26.4 .7,-11.8 .6,-4.2 .7,20.3 .7,-15.3 .7,19.7 .6,-27.1 .7,.7 .7,14.7 .6,.3 .7,-13.1 .7,14.8 .6,-25.3 .7,42.5 .7,-37.2 .6,-4.9 .7,.1 .7,38 .6,-12 .7,-21.6 .7,11.8 .6,-1.9 .7,-13.4 .7,10.5 .6,25.4 .7,-.2 .7,-26.6 .6,-6.2 .7,32.9 .7,-4.3 .7,-22.7 .6,12.2 .7,-5.1 .7,-1.4 .6,-7.5 .7,22.1 .7,-1.6 .6,-3.6 .7,-10.1 .7,-3.9 .6,7.1 .7,-6.5 .7,-.9 .6,-2.4 .7,-2.6 .7,-3 .6,1.6 .7,-3.6 .7,-6.6 .6,-7 .7,-7.4 .7,-6.9 .6,-6.3 .7,-11.1 .7,-7.7 .7,-11.8 .6,-15.7 .7,-18.2 .7,-19.6 .6,-21.3 .7,-21.7 .7,-20.2 .6,-16.2 .7,-9.7 .7,-1.5 .6,7 .7,14.1 .7,19 .6,21.3 .7,21.5 .7,20.3 .6,17.5 .7,15.8 .7,10.8 .6,11.8 .7,15.6 .7,4.1 .6,5.9 .7,11.2 .7,7.5 .7,1.5 .6,3.5 .7,-.8 .7,10.9 .6,3.6 .7,2.4 .7,2.1 .6,1.8 .7,-4.4 .7,2.9 .6,-4.9 .7,4.2 .7,5.6 .6,-4.2 .7,4.2 .7,-3.9 .6,-12.1 .7,-3.9 .7,-2.4 .6,24.2 .7,3.1 .7,-6.5 .6,-22.3 .7,23.2 .7,1.6 .7,-14.3 .6,3 .7,9.3 .7,-.7 .6,-5.2 .7,-20.5 .7,8.2 .6,-17.8 .7,6 .7,-7.4 .6,.9 .7,11.4 .7,6.2 .6,-7.7 .7,-3.8 .7,-9.8 .6,-7.7 .7,-17.6 .7,-9.2 .6,-10.4 .7,-11.6 .7,-13.8 .6,-6.7 .7,-3.7 .7,3.3 .7,6.7 .6,10.6 .7,14.8 .7,13.2 .6,6.2 .7,17.3 .7,2 .6,12.4 .7,6.1 .7,3.5 .6,2.2 .7,9.6 .7,-3.6 .6,1.8 .7,3.1 .7,-16 .6,7.7 .7,15.6 .7,1 .6,-2.7 .7,-.9 .7,-7.4 .6,8.3 .7,-27 .7,.4 .7,32.9 .6,2 .7,-36.6 .7,-2 .6,-.7 .7,32.7 .7,3.9 .6,-.9 .7,-11.8 .7,6.1 .6,1.4 .7,-7.8 .7,.6 .6,-3.9 .7,-.7 .7,-6.4 .6,-13.7 .7,10.8 .7,-10.4 .6,2.6 .7,-.6 .7,-11.9 .6,-4.3 .7,-4.4 .7,-8.8 .7,-5.5 .6,-4.7 .7,-7.4 .7,-13.2 .6,-13.6 .7,-13.2 .7,-15.2 .6,-17 .7,-18 .7,-17.8 .6,-16.4 .7,-13.4 .7,-9.2 .6,-3.6 .7,2.2 .7,7.7 .6,12 .7,15 .7,16.3 .6,16.5 .7,15.7 .7,13.7 .6,13.1 .7,9.8 .7,9.1 .7,8.5 .6,9.3 .7,6.1 .7,1.9 .6,4.2 .7,7.3 .7,-.5 .6,2.5 .7,4.2 .7,3.6 .6,-.9 .7,-2.4 .7,8.1 .6,2.8 .7,-3.2 .7,5.2 .6,3 .7,-.5 .7,-2.7 .6,3.8 .7,-2.7 .7,1.9 .6,2 .7,2.3 .7,5.2 .7,.3 .6,5.1 .7,2.7 .7,5.7 .6,-1 .7,3.5 .7,-2.6 .6,.2 .7,2.1 .7,2.9 .6,-10 .7,-3.2 .7,.1 .6,.1 .7,5.6 .7,-5.5 .6,.9 .7,4.8 .7,8.7 .6,5.8 .7,10.7 .7,4.3 .6,-3.8 .7,-24.5 .7,30.5 .7,-11.8 .6,-9.3 .7,-1.8 .7,-13.4 .6,23.9 .7,-7.8 .7,-15.8 .6,36.8 .7,4.5 .7,-1.2 .6,-8.6 .7,-23.9 .7,12.6 .6,-19.7 .7,31.3 .7,-30.5 .6,32.3 .7,7.1 .7,4.3" fill="none" stroke="#0c0ce6" stroke-width="1.3" stroke-linejoin="round" marker-start="url(#m_up)" marker-mid="url(#m_up)" marker-end="url(#m_up)"/>
<path d="M114.6,246l.9,5.5 .9,15.2 .8,-.9 .9,-27.1 .9,24.9 .9,-1.5 .9,-21 .9,-15.1 .9,10.1 .9,-26.4 .9,12.8 .9,-4 .9,10.2 .8,-12.6 .9,-12.1 .9,-16.7 .9,-24.8 .9,-33.9 .9,-43.1 .9,-46.5 .9,-20.9 .9,20.9 .9,46.5 .8,43.2 .9,32.6 .9,24.8 .9,18.2 .9,18.1 .9,13.9 .9,2.7 .9,11.9 .9,3.2 .9,-36.6 .9,39.7 .8,-25.3 .9,-10.4 .9,-9.8 .9,25.6 .9,-11.4 .9,-12.8 .9,13.7 .9,6.6 .9,1.7 .9,9.1 .9,15 .8,7 .9,-34.6 .9,2.2 .9,11 .9,29 .9,-40.8 .9,-10.1 .9,50.5 .9,-48.5 .9,18.9 .9,4 .8,18.2 .9,7.7 .9,-3.8 .9,2.7 .9,-13.2 .9,-15.5 .9,27 .9,-3.7 .9,-12.8 .9,-13.2 .8,-19.6 .9,49.5 .9,-41.9 .9,25.1 .9,-6.5 .9,-17.8 .9,26.8 .9,-29.7 .9,31.3 .9,17.1 .9,-52.3 .8,52.3 .9,-37 .9,36.8 .9,-29.6 .9,3.7 .9,-14.5 .9,8.2 .9,-18.6 .9,39.6 .9,8.4 .9,2.6 .8,-.1 .9,-.1 .9,-.1 .9,-.1 .9,-5.2 .9,-4.1 .9,-15.3 .9,-9.8 .9,-4.6 .9,-4.4 .8,28.4 .9,3.4 .9,-31.9 .9,15.8 .9,9.2 .9,-11.1 .9,5.3 .9,19.3 .9,1.4 .9,-1.1 .9,-50.5 .8,48.3 .9,1.6 .9,-47.5 .9,-23.3 .9,1.8 .9,5.7 .9,-2.1 .9,1.8 .9,50.9 .9,-25.6 .9,19.5 .8,-19.5 .9,13.6 .9,-2.3 .9,-5.1 .9,-14.8 .9,-11.8 .9,-11.2 .9,-8.1 .9,-26.3 .9,-30.7 .9,-35.2 .8,-42 .9,-33.2 .9,-7.9 .9,22.3 .9,39.6 .9,40.3 .9,31 .9,24.5 .9,19.9 .9,13.4 .8,9.1 .9,7.8 .9,6.8 .9,.4 .9,-4.2 .9,.1 .9,-.1 .9,11.7 .9,-8.4 .9,8 .9,18.9 .8,-6.1 .9,6.4 .9,-21.3 .9,1 .9,.7 .9,-11 .9,31.2 .9,-5.8 .9,-2.6 .9,-22.4 .9,-4.2 .8,27.2 .9,-6.4 .9,-2.7 .9,-2.7 .9,-11.8 .9,-3.3 .9,.6 .9,30.6 .9,-11.1 .9,6.9 .8,-.6 .9,3.7 .9,1.3 .9,5.7 .9,-16.9 .9,-4.6 .9,2.3 .9,2.4 .9,.3 .9,-12.7 .9,-3.5 .8,19.5 .9,8.2 .9,4.3 .9,-7.1 .9,-6 .9,12.2 .9,-2 .9,-10.4 .9,2.2 .9,15.6 .9,-27.2 .8,-13 .9,29.1 .9,16.2 .9,-37.5 .9,14.3 .9,8.7 .9,-19.3 .9,-3.4 .9,-52.8 .9,-2.8 .9,45.4 .8,18.5 .9,-2.6 .9,-14.5 .9,11.9 .9,19.6 .9,12.4 .9,-9.9 .9,-8.4 .9,3.7 .9,-9.8 .8,2.7 .9,-6.6 .9,22.8 .9,-17.5 .9,7.9 .9,2.8 .9,-3.1 .9,-4 .9,-6.4 .9,1.5 .9,-6.5 .8,-10.6 .9,-7.6 .9,-7.2 .9,-11.8 .9,-14.6 .9,-17.7 .9,-23.5 .9,-31.3 .9,-35.1 .9,-35.2 .9,-25.4 .8,-5.8 .9,16.6 .9,31.7 .9,36.3 .9,32.3 .9,27.1 .9,24.3 .9,18.2 .9,13.8 .9,6.5 .8,5.5 .9,9.4 .9,5.4 .9,7.1 .9,-2.2 .9,3 .9,.5 .9,12.2 .9,2.3 .9,1.6 .9,1.4 .8,1.2 .9,-3.4 .9,2.6 .9,1.8 .9,.3 .9,-.9 .9,3.9 .9,.3 .9,-20.9 .9,9.2 .9,-3.4 .8,-.2 .9,7.3 .9,11.2 .9,-11 .9,-3.4 .9,-7.9 .9,-1.9 .9,13.8 .9,-3.3 .9,-3.4 .9,17.1 .8,-11.7 .9,-2.8 .9,-8.9 .9,25.5 .9,-4.5 .9,4.7 .9,.3 .9,-18.3 .9,-1.8 .9,3.6 .8,.8 .9,-9.4 .9,1.1 .9,11.7 .9,-10 .9,15.8 .9,7.3 .9,-8.2 .9,-8.2 .9,-6.4 .9,1.7" fill="none" stroke="#e61ee6" stroke-width="1.3" stroke-linejoin="round" marker-start="url(#m_dn)" marker-mid="url(#m_dn)" marker-end="url(#m_dn)"/>
<path d="M456,276.3l.3,0 .3,0 .3,0 .3,0 .2,0 .3,0 .3,0 .3,-.1 .3,0 .3,0 .3,0 .3,0 .3,0 .3,0 .2,0 .3,0 .3,-.1 .3,0 .3,0 .3,0 .3,0 .3,0 .3,0 .3,0 .2,0 .3,-.1 .3,0 .3,0 .3,0 .3,0 .3,0 .3,0 .3,0 .3,-.1 .2,0 .3,0 .3,0 .3,0 .3,0 .3,0 .3,-.1 .3,0 .3,0 .3,0 .2,0 .3,0 .3,0 .3,-.1 .3,0 .3,0 .3,0 .3,0 .3,0 .3,0 .2,-.1 .3,0 .3,0 .3,0 .3,0 .3,-.1 .3,0 .3,0 .3,0 .3,0 .2,0 .3,-.1 .3,0 .3,0 .3,0 .3,0 .3,-.1 .3,0 .3,0 .3,0 .2,0 .3,-.1 .3,0 .3,0 .3,0 .3,0 .3,-.1 .3,0 .3,0 .3,0 .2,-.1 .3,0 .3,0 .3,0 .3,-.1 .3,0 .3,0 .3,0 .3,-.1 .3,0 .2,0 .3,0 .3,-.1 .3,0 .3,0 .3,-.1 .3,0 .3,0 .3,0 .2,-.1 .3,0 .3,0 .3,-.1 .3,0 .3,0 .3,-.1 .3,0 .3,0 .3,-.1 .2,0 .3,0 .3,-.1 .3,0 .3,-.1 .3,0 .3,0 .3,-.1 .3,0 .3,-.1 .2,0 .3,0 .3,-.1 .3,0 .3,-.1 .3,0 .3,-.1 .3,0 .3,-.1 .3,0 .2,0 .3,-.1 .3,0 .3,-.1 .3,-.1 .3,0 .3,-.1 .3,0 .3,-.1 .3,0 .2,-.1 .3,0 .3,-.1 .3,-.1 .3,0 .3,-.1 .3,-.1 .3,0 .3,-.1 .3,-.1 .2,0 .3,-.1 .3,-.1 .3,-.1 .3,0 .3,-.1 .3,-.1 .3,-.1 .3,-.1 .3,0 .2,-.1 .3,-.1 .3,-.1 .3,-.1 .3,-.1 .3,-.1 .3,-.1 .3,-.1 .3,-.1 .3,-.1 .2,-.1 .3,-.1 .3,-.1 .3,-.1 .3,-.2 .3,-.1 .3,-.1 .3,-.1 .3,-.2 .3,-.1 .2,-.1 .3,-.2 .3,-.1 .3,-.2 .3,-.1 .3,-.2 .3,-.2 .3,-.1 .3,-.2 .3,-.2 .2,-.2 .3,-.2 .3,-.2 .3,-.2 .3,-.2 .3,-.2 .3,-.2 .3,-.2 .3,-.3 .2,-.2 .3,-.3 .3,-.2 .3,-.3 .3,-.3 .3,-.3 .3,-.3 .3,-.3 .3,-.4 .3,-.3 .2,-.4 .3,-.4 .3,-.3 .3,-.5 .3,-.4 .3,-.4 .3,-.5 .3,-.5 .3,-.5 .3,-.6 .2,-.6 .3,-.6 .3,-.6 .3,-.7 .3,-.7 .3,-.8 .3,-.8 .3,-.8 .3,-1 .3,-.9 .2,-1.1 .3,-1.1 .3,-1.2 .3,-1.2 .3,-1.4 .3,-1.5 .3,-1.5 .3,-1.7 .3,-1.9 .3,-2 .2,-2.1 .3,-2.4 .3,-2.5 .3,-2.8 .3,-3.1 .3,-3.3 .3,-3.7 .3,-4 .3,-4.5 .3,-4.9 .2,-5.4 .3,-6 .3,-6.6 .3,-7.4 .3,-8.1 .3,-9 .3,-9.8 .3,-10.8 .3,-11.9 .3,-12.8 .2,-13.5 .3,-14.3 .3,-14.6 .3,-14.6 .3,-13.9 .3,-12.4 .3,-10.4 .3,-7.6 .3,-3.4 .3,0 .2,3 .3,7.3 .3,10.2 .3,12.3 .3,13.7 .3,14.6 .3,14.6 .3,14.3 .3,13.6 .3,12.8 .2,11.9 .3,10.9 .3,9.9 .3,9.1 .3,8.2 .3,7.3 .3,6.7 .3,6.1 .3,5.4 .3,4.9 .2,4.5 .3,4.1 .3,3.6 .3,3.4 .3,3.1 .3,2.7 .3,2.6 .3,2.4 .3,2.1 .2,2 .3,1.8 .3,1.7 .3,1.6 .3,1.5 .3,1.3 .3,1.3 .3,1.2 .3,1.1 .3,1 .2,1 .3,.9 .3,.8 .3,.8 .3,.8 .3,.7 .3,.6 .3,.7 .3,.6 .3,.5 .2,.6 .3,.5 .3,.5 .3,.4 .3,.5 .3,.4 .3,.4 .3,.4 .3,.3 .3,.4 .2,.3 .3,.4 .3,.3 .3,.3 .3,.2 .3,.3 .3,.3 .3,.2 .3,.3 .3,.2 .2,.2 .3,.2 .3,.2 .3,.3 .3,.1 .3,.2 .3,.2 .3,.2 .3,.2 .3,.1 .2,.2 .3,.1 .3,.2 .3,.1 .3,.2 .3,.1 .3,.1 .3,.2 .3,.1 .3,.1 .2,.1 .3,.1 .3,.1 .3,.1 .3,.1 .3,.1 .3,.1 .3,.1 .3,.1 .3,.1 .2,.1 .3,.1 .3,.1 .3,0 .3,.1 .3,.1 .3,.1 .3,0 .3,.1 .3,.1 .2,0 .3,.1 .3,.1 .3,0 .3,.1 .3,0 .3,.1 .3,0 .3,.1 .3,0 .2,.1 .3,0 .3,.1 .3,0 .3,.1 .3,0 .3,0 .3,.1 .3,0 .2,.1 .3,0 .3,0 .3,.1 .3,0 .3,0 .3,0 .3,.1 .3,0 .3,0 .2,.1 .3,0 .3,0 .3,0 .3,0 .3,.1 .3,0 .3,0 .3,0 .3,0 .2,0 .3,.1 .3,0 .3,0 .3,0 .3,0 .3,0 .3,0 .3,0 .3,0 .2,0 .3,0 .3,.1 .3,0 .3,0 .3,0 .3,0 .3,0 .3,0 .3,0 .2,0 .3,0 .3,0 .3,0 .3,-.1 .3,0 .3,0 .3,0 .3,0 .3,0 .2,0 .3,0 .3,0 .3,0 .3,0 .3,-.1 .3,0 .3,0 .3,0 .3,0 .2,0 .3,-.1 .3,0 .3,0 .3,0 .3,0 .3,-.1 .3,0 .3,0 .3,0 .2,-.1 .3,0 .3,0 .3,0 .3,-.1 .3,0 .3,0 .3,-.1 .3,0 .3,0 .2,-.1 .3,0 .3,-.1 .3,0 .3,0 .3,-.1 .3,0 .3,-.1 .3,0 .3,0 .2,-.1 .3,0 .3,-.1 .3,0 .3,-.1 .3,0 .3,-.1 .3,-.1 .3,0 .2,-.1 .3,0 .3,-.1 .3,0 .3,-.1 .3,-.1 .3,0 .3,-.1 .3,-.1 .3,-.1 .2,0 .3,-.1 .3,-.1 .3,-.1 .3,0 .3,-.1 .3,-.1 .3,-.1 .3,-.1 .3,-.1 .2,0 .3,-.1 .3,-.1 .3,-.1 .3,-.1 .3,-.1 .3,-.1 .3,-.2 .3,-.1 .3,-.1 .2,-.1 .3,-.1 .3,-.1 .3,-.2 .3,-.1 .3,-.1 .3,-.1 .3,-.2 .3,-.1 .3,-.2 .2,-.1 .3,-.2 .3,-.1 .3,-.2 .3,-.1 .3,-.2 .3,-.2 .3,-.2 .3,-.1 .3,-.2 .2,-.2 .3,-.2 .3,-.2 .3,-.2 .3,-.2 .3,-.2 .3,-.3 .3,-.2 .3,-.2 .3,-.3 .2,-.2 .3,-.3 .3,-.3 .3,-.2 .3,-.3 .3,-.3 .3,-.3 .3,-.3 .3,-.4 .3,-.3 .2,-.3 .3,-.4 .3,-.3 .3,-.4 .3,-.4 .3,-.4 .3,-.4 .3,-.5 .3,-.4 .3,-.5 .2,-.5 .3,-.5 .3,-.5 .3,-.6 .3,-.5 .3,-.6 .3,-.6 .3,-.7 .3,-.6 .3,-.7 .2,-.7 .3,-.8 .3,-.8 .3,-.8 .3,-.8 .3,-.9 .3,-1 .3,-1 .3,-1 .3,-1.1 .2,-1.1 .3,-1.2 .3,-1.3 .3,-1.3 .3,-1.4 .3,-1.5 .3,-1.6 .3,-1.6 .3,-1.7 .2,-1.9 .3,-1.9 .3,-2.1 .3,-2.2 .3,-2.3 .3,-2.5 .3,-2.6 .3,-2.8 .3,-3 .3,-3.2 .2,-3.4 .3,-3.5 .3,-3.9 .3,-4.1 .3,-4.4 .3,-4.7 .3,-5 .3,-5.4 .3,-5.7 .3,-6.1 .2,-6.5 .3,-6.8 .3,-7.4 .3,-7.7 .3,-8.1 .3,-8.5 .3,-8.9 .3,-9.1 .3,-9.4 .3,-9.6 .2,-9.6 .3,-9.4 .3,-9.2 .3,-8.7 .3,-8.1 .3,-7 .3,-6 .3,-4.7 .3,-2.2 .3,0 .2,0 .3,0 .3,2.4 .3,4.8 .3,6 .3,7.2 .3,8.1 .3,8.7 .3,9.1 .3,9.5 .2,9.5 .3,9.6 .3,9.3 .3,9.1 .3,8.9 .3,8.4 .3,8.1 .3,7.6 .3,7.3 .3,6.8 .2,6.4 .3,6 .3,5.7 .3,5.3 .3,4.9 .3,4.7 .3,4.3 .3,4.1 .3,3.8 .3,3.5 .2,3.4 .3,3.1 .3,2.9 .3,2.8 .3,2.6 .3,2.4 .3,2.3 .3,2.1 .3,2.1 .3,1.9 .2,1.8 .3,1.7 .3,1.6 .3,1.5 .3,1.4 .3,1.4 .3,1.3 .3,1.2 .3,1.1 .3,1.1 .2,1.1 .3,1 .3,.9 .3,.9 .3,.9 .3,.8 .3,.8 .3,.7 .3,.7 .2,.7 .3,.7 .3,.6 .3,.6 .3,.6 .3,.5 .3,.5 .3,.5 .3,.5 .3,.5 .2,.4 .3,.4 .3,.4 .3,.4 .3,.4 .3,.4 .3,.3 .3,.3 .3,.4 .3,.3 .2,.3 .3,.2 .3,.3 .3,.3 .3,.2 .3,.3 .3,.2 .3,.2 .3,.2 .3,.2 .2,.2 .3,.2 .3,.2 .3,.2 .3,.1 .3,.2 .3,.1 .3,.2 .3,.1 .3,.2 .2,.1 .3,.1 .3,.1 .3,.1 .3,.1 .3,.1 .3,.1 .3,.1 .3,.1 .3,.1 .2,0 .3,.1 .3,.1 .3,0 .3,.1 .3,0 .3,.1 .3,0 .3,.1 .3,0 .2,0 .3,0 .3,.1 .3,0 .3,0 .3,0 .3,0 .3,0 .3,0 .3,0 .2,-.1 .3,0 .3,0 .3,0 .3,-.1 .3,0 .3,0 .3,-.1 .3,0 .3,-.1 .2,-.1 .3,0 .3,-.1 .3,-.1 .3,0 .3,-.1 .3,-.1 .3,-.1 .3,-.1 .3,-.1 .2,-.1 .3,-.1 .3,-.1 .3,-.2 .3,-.1 .3,-.1 .3,-.2 .3,-.1 .3,-.1 .2,-.2 .3,-.2 .3,-.1 .3,-.2 .3,-.2 .3,-.2 .3,-.2 .3,-.2 .3,-.2 .3,-.2 .2,-.3 .3,-.2 .3,-.2 .3,-.3 .3,-.3 .3,-.2 .3,-.3 .3,-.3 .3,-.3 .3,-.3 .2,-.4 .3,-.3 .3,-.3 .3,-.4 .3,-.4 .3,-.4 .3,-.4 .3,-.4 .3,-.4 .3,-.5 .2,-.5 .3,-.4 .3,-.5 .3,-.6 .3,-.5 .3,-.6 .3,-.6 .3,-.6 .3,-.6 .3,-.7 .2,-.6 .3,-.8 .3,-.7 .3,-.8 .3,-.8 .3,-.8 .3,-.9 .3,-.9 .3,-1 .3,-.9 .2,-1.1 .3,-1.1 .3,-1.1 .3,-1.2 .3,-1.2 .3,-1.3 .3,-1.4 .3,-1.4 .3,-1.5 .3,-1.6 .2,-1.6 .3,-1.8 .3,-1.8 .3,-1.9 .3,-2 .3,-2.1 .3,-2.2 .3,-2.4 .3,-2.5 .3,-2.6 .2,-2.7 .3,-2.9 .3,-3.1 .3,-3.2 .3,-3.4 .3,-3.6 .3,-3.8 .3,-4 .3,-4.3 .3,-4.4 .2,-4.7 .3,-5 .3,-5.2 .3,-5.5 .3,-5.8 .3,-6.1 .3,-6.3 .3,-6.6 .3,-6.9 .3,-7.1 .2,-7.4 .3,-7.5 .3,-7.7 .3,-7.8 .3,-7.9 .3,-7.8 .3,-7.7 .3,-7.5 .3,-7.2 .2,-6.7 .3,-6.2 .3,-5.5 .3,-4.7 .3,-3.8 .3,-2.6 .3,-.7 .3,0 .3,0 .3,.5 .2,2.4 .3,3.6 .3,4.7 .3,5.4 .3,6 .3,6.8 .3,7.1 .3,7.5 .3,7.7 .3,7.8 .2,7.9 .3,7.9 .3,7.7 .3,7.6 .3,7.5 .3,7.1 .3,7 .3,6.7 .3,6.4 .3,6.1 .2,5.9 .3,5.5 .3,5.3 .3,5.1 .3,4.8 .3,4.5 .3,4.3 .3,4.1 .3,3.8 .3,3.7 .2,3.5 .3,3.2 .3,3.1 .3,3 .3,2.8 .3,2.7 .3,2.5 .3,2.4 .3,2.3 .3,2.1 .2,2.1 .3,1.9 .3,1.9 .3,1.8 .3,1.7 .3,1.6 .3,1.5 .3,1.5 .3,1.4 .3,1.3 .2,1.3 .3,1.3 .3,1.1 .3,1.2 .3,1 .3,1.1 .3,1 .3,.9 .3,.9 .3,.9 .2,.9 .3,.8 .3,.8 .3,.7 .3,.8 .3,.7 .3,.6 .3,.7 .3,.6 .3,.6 .2,.6 .3,.6 .3,.5 .3,.6 .3,.5 .3,.5 .3,.5 .3,.4 .3,.5 .3,.4 .2,.4 .3,.4 .3,.4 .3,.4 .3,.4 .3,.4 .3,.3 .3,.4 .3,.3 .2,.3 .3,.4 .3,.3 .3,.3 .3,.3 .3,.2 .3,.3 .3,.3 .3,.2 .3,.3 .2,.3 .3,.2 .3,.2 .3,.3 .3,.2 .3,.2 .3,.2 .3,.2 .3,.2 .3,.2 .2,.2 .3,.2 .3,.2 .3,.2 .3,.2 .3,.2 .3,.1 .3,.2 .3,.2 .3,.1 .2,.2 .3,.1 .3,.2 .3,.1 .3,.2 .3,.1 .3,.2 .3,.1 .3,.1 .3,.2 .2,.1 .3,.1 .3,.1 .3,.2 .3,.1 .3,.1 .3,.1 .3,.1 .3,.1 .3,.1 .2,.1 .3,.1 .3,.1 .3,.1 .3,.1 .3,.1 .3,.1 .3,.1 .3,.1 .3,.1 .2,.1 .3,.1 .3,.1 .3,0 .3,.1 .3,.1 .3,.1 .3,.1 .3,0 .3,.1 .2,.1 .3,.1 .3,0 .3,.1 .3,.1 .3,0 .3,.1 .3,.1 .3,0 .3,.1 .2,.1 .3,0 .3,.1 .3,.1 .3,0 .3,.1 .3,0 .3,.1 .3,0 .3,.1 .2,.1 .3,0 .3,.1 .3,0 .3,.1 .3,0 .3,.1 .3,0 .3,.1 .2,0 .3,.1 .3,0 .3,0 .3,.1 .3,0 .3,.1 .3,0 .3,.1 .3,0 .2,.1 .3,0 .3,0 .3,.1 .3,0 .3,.1 .3,0 .3,0 .3,.1 .3,0 .2,0 .3,.1 .3,0 .3,0 .3,.1 .3,0 .3,0 .3,.1 .3,0 .3,0 .2,.1 .3,0 .3,0 .3,.1 .3,0 .3,0 .3,.1 .3,0 .3,0 .3,.1 .2,0 .3,0 .3,0 .3,.1 .3,0 .3,0 .3,0 .3,.1 .3,0 .3,0" fill="none" stroke="#000" stroke-width="1.5" marker-start="url(#m_sqb)" marker-mid="url(#m_sqb)" marker-end="url(#m_sqb)"/>
<path d="M456,276l.3,0 .3,0 .3,0 .3,0 .2,0 .3,0 .3,0 .3,0 .3,-.1 .3,0 .3,0 .3,0 .3,0 .3,0 .2,0 .3,0 .3,-.1 .3,0 .3,0 .3,0 .3,0 .3,0 .3,0 .3,0 .2,-.1 .3,0 .3,0 .3,0 .3,0 .3,0 .3,0 .3,-.1 .3,0 .3,0 .2,0 .3,0 .3,0 .3,-.1 .3,0 .3,0 .3,0 .3,0 .3,0 .3,0 .2,-.1 .3,0 .3,0 .3,0 .3,0 .3,-.1 .3,0 .3,0 .3,0 .3,0 .2,0 .3,-.1 .3,0 .3,0 .3,0 .3,0 .3,-.1 .3,0 .3,0 .3,0 .2,-.1 .3,0 .3,0 .3,0 .3,0 .3,-.1 .3,0 .3,0 .3,0 .3,-.1 .2,0 .3,0 .3,0 .3,-.1 .3,0 .3,0 .3,0 .3,-.1 .3,0 .3,0 .2,0 .3,-.1 .3,0 .3,0 .3,-.1 .3,0 .3,0 .3,0 .3,-.1 .3,0 .2,0 .3,-.1 .3,0 .3,0 .3,-.1 .3,0 .3,0 .3,-.1 .3,0 .2,0 .3,-.1 .3,0 .3,-.1 .3,0 .3,0 .3,-.1 .3,0 .3,0 .3,-.1 .2,0 .3,-.1 .3,0 .3,-.1 .3,0 .3,-.1 .3,0 .3,0 .3,-.1 .3,0 .2,-.1 .3,0 .3,-.1 .3,0 .3,-.1 .3,0 .3,-.1 .3,-.1 .3,0 .3,-.1 .2,0 .3,-.1 .3,0 .3,-.1 .3,-.1 .3,0 .3,-.1 .3,-.1 .3,0 .3,-.1 .2,-.1 .3,0 .3,-.1 .3,-.1 .3,-.1 .3,0 .3,-.1 .3,-.1 .3,-.1 .3,0 .2,-.1 .3,-.1 .3,-.1 .3,-.1 .3,-.1 .3,-.1 .3,-.1 .3,-.1 .3,-.1 .3,-.1 .2,-.1 .3,-.1 .3,-.1 .3,-.1 .3,-.1 .3,-.1 .3,-.1 .3,-.2 .3,-.1 .3,-.1 .2,-.1 .3,-.2 .3,-.1 .3,-.2 .3,-.1 .3,-.2 .3,-.1 .3,-.2 .3,-.1 .3,-.2 .2,-.1 .3,-.2 .3,-.2 .3,-.2 .3,-.2 .3,-.2 .3,-.2 .3,-.2 .3,-.2 .3,-.2 .2,-.2 .3,-.2 .3,-.3 .3,-.2 .3,-.3 .3,-.2 .3,-.3 .3,-.3 .3,-.3 .2,-.3 .3,-.3 .3,-.3 .3,-.3 .3,-.4 .3,-.3 .3,-.4 .3,-.4 .3,-.4 .3,-.4 .2,-.5 .3,-.4 .3,-.5 .3,-.5 .3,-.5 .3,-.5 .3,-.6 .3,-.6 .3,-.6 .3,-.7 .2,-.6 .3,-.7 .3,-.8 .3,-.8 .3,-.8 .3,-.9 .3,-.9 .3,-1 .3,-1.1 .3,-1.1 .2,-1.1 .3,-1.3 .3,-1.3 .3,-1.4 .3,-1.5 .3,-1.6 .3,-1.7 .3,-1.8 .3,-2 .3,-2.1 .2,-2.2 .3,-2.4 .3,-2.7 .3,-2.8 .3,-3 .3,-3.3 .3,-3.6 .3,-3.8 .3,-4.3 .3,-4.5 .2,-5 .3,-5.4 .3,-5.9 .3,-6.4 .3,-6.9 .3,-7.6 .3,-8.2 .3,-8.8 .3,-9.6 .3,-10.2 .2,-10.8 .3,-11.4 .3,-11.9 .3,-12.1 .3,-12.3 .3,-11.9 .3,-11.3 .3,-10.4 .3,-8.7 .3,-6.9 .2,-4.6 .3,-.7 .3,.2 .3,2.7 .3,5.7 .3,8.1 .3,9.6 .3,10.8 .3,11.8 .3,12.1 .2,12.2 .3,12 .3,11.6 .3,11.1 .3,10.5 .3,9.8 .3,9.2 .3,8.5 .3,7.8 .3,7.2 .2,6.7 .3,6 .3,5.6 .3,5.2 .3,4.7 .3,4.4 .3,4 .3,3.7 .3,3.4 .2,3.1 .3,3 .3,2.6 .3,2.5 .3,2.4 .3,2.1 .3,2 .3,1.9 .3,1.7 .3,1.7 .2,1.5 .3,1.4 .3,1.4 .3,1.2 .3,1.2 .3,1.1 .3,1.1 .3,1 .3,.9 .3,.9 .2,.8 .3,.8 .3,.8 .3,.7 .3,.7 .3,.6 .3,.6 .3,.6 .3,.6 .3,.5 .2,.5 .3,.5 .3,.5 .3,.4 .3,.4 .3,.4 .3,.4 .3,.4 .3,.4 .3,.3 .2,.4 .3,.3 .3,.3 .3,.3 .3,.3 .3,.3 .3,.2 .3,.3 .3,.2 .3,.3 .2,.2 .3,.2 .3,.2 .3,.2 .3,.2 .3,.2 .3,.2 .3,.2 .3,.2 .3,.2 .2,.1 .3,.2 .3,.1 .3,.2 .3,.1 .3,.2 .3,.1 .3,.1 .3,.2 .3,.1 .2,.1 .3,.1 .3,.2 .3,.1 .3,.1 .3,.1 .3,.1 .3,.1 .3,.1 .3,.1 .2,.1 .3,0 .3,.1 .3,.1 .3,.1 .3,.1 .3,0 .3,.1 .3,.1 .3,.1 .2,0 .3,.1 .3,.1 .3,0 .3,.1 .3,0 .3,.1 .3,0 .3,.1 .2,0 .3,.1 .3,0 .3,.1 .3,0 .3,.1 .3,0 .3,.1 .3,0 .3,0 .2,.1 .3,0 .3,0 .3,.1 .3,0 .3,0 .3,.1 .3,0 .3,0 .3,0 .2,0 .3,.1 .3,0 .3,0 .3,0 .3,0 .3,.1 .3,0 .3,0 .3,0 .2,0 .3,0 .3,0 .3,0 .3,.1 .3,0 .3,0 .3,0 .3,0 .3,0 .2,0 .3,0 .3,0 .3,0 .3,0 .3,0 .3,0 .3,0 .3,0 .3,-.1 .2,0 .3,0 .3,0 .3,0 .3,0 .3,0 .3,0 .3,0 .3,-.1 .3,0 .2,0 .3,0 .3,0 .3,-.1 .3,0 .3,0 .3,0 .3,-.1 .3,0 .3,0 .2,0 .3,-.1 .3,0 .3,0 .3,-.1 .3,0 .3,0 .3,-.1 .3,0 .3,0 .2,-.1 .3,0 .3,-.1 .3,0 .3,0 .3,-.1 .3,0 .3,-.1 .3,0 .3,-.1 .2,0 .3,-.1 .3,0 .3,-.1 .3,0 .3,-.1 .3,-.1 .3,0 .3,-.1 .2,-.1 .3,0 .3,-.1 .3,-.1 .3,0 .3,-.1 .3,-.1 .3,-.1 .3,0 .3,-.1 .2,-.1 .3,-.1 .3,-.1 .3,-.1 .3,0 .3,-.1 .3,-.1 .3,-.1 .3,-.1 .3,-.1 .2,-.1 .3,-.1 .3,-.1 .3,-.2 .3,-.1 .3,-.1 .3,-.1 .3,-.1 .3,-.2 .3,-.1 .2,-.1 .3,-.2 .3,-.1 .3,-.1 .3,-.2 .3,-.1 .3,-.2 .3,-.1 .3,-.2 .3,-.2 .2,-.1 .3,-.2 .3,-.2 .3,-.2 .3,-.1 .3,-.2 .3,-.2 .3,-.2 .3,-.2 .3,-.2 .2,-.3 .3,-.2 .3,-.2 .3,-.3 .3,-.2 .3,-.3 .3,-.2 .3,-.3 .3,-.2 .3,-.3 .2,-.3 .3,-.3 .3,-.3 .3,-.3 .3,-.4 .3,-.3 .3,-.3 .3,-.4 .3,-.4 .3,-.4 .2,-.3 .3,-.5 .3,-.4 .3,-.4 .3,-.5 .3,-.4 .3,-.5 .3,-.5 .3,-.5 .3,-.6 .2,-.5 .3,-.6 .3,-.6 .3,-.6 .3,-.7 .3,-.6 .3,-.7 .3,-.7 .3,-.8 .3,-.8 .2,-.8 .3,-.9 .3,-.9 .3,-.9 .3,-1 .3,-1 .3,-1.1 .3,-1.1 .3,-1.2 .3,-1.2 .2,-1.3 .3,-1.3 .3,-1.5 .3,-1.4 .3,-1.6 .3,-1.7 .3,-1.7 .3,-1.9 .3,-1.9 .2,-2 .3,-2.2 .3,-2.3 .3,-2.4 .3,-2.6 .3,-2.7 .3,-2.9 .3,-3 .3,-3.3 .3,-3.4 .2,-3.7 .3,-3.8 .3,-4.1 .3,-4.4 .3,-4.7 .3,-4.9 .3,-5.2 .3,-5.6 .3,-5.9 .3,-6.2 .2,-6.6 .3,-6.9 .3,-7.2 .3,-7.7 .3,-7.9 .3,-8.2 .3,-8.5 .3,-8.7 .3,-8.7 .3,-8.9 .2,-8.7 .3,-8.6 .3,-8.2 .3,-7.7 .3,-7 .3,-6.2 .3,-5.1 .3,-4 .3,-.5 .3,0 .2,0 .3,0 .3,.8 .3,3.9 .3,5.2 .3,6.2 .3,7 .3,7.7 .3,8.2 .3,8.5 .2,8.7 .3,8.8 .3,8.8 .3,8.6 .3,8.4 .3,8.2 .3,7.8 .3,7.6 .3,7.2 .3,6.8 .2,6.5 .3,6.2 .3,5.8 .3,5.5 .3,5.1 .3,4.9 .3,4.6 .3,4.3 .3,4 .3,3.8 .2,3.6 .3,3.4 .3,3.2 .3,3 .3,2.8 .3,2.7 .3,2.5 .3,2.3 .3,2.3 .3,2.1 .2,1.9 .3,1.9 .3,1.8 .3,1.7 .3,1.6 .3,1.5 .3,1.4 .3,1.4 .3,1.3 .3,1.2 .2,1.2 .3,1.1 .3,1.1 .3,1 .3,1 .3,.9 .3,.9 .3,.8 .3,.8 .2,.7 .3,.8 .3,.7 .3,.6 .3,.7 .3,.6 .3,.6 .3,.5 .3,.6 .3,.5 .2,.5 .3,.4 .3,.5 .3,.4 .3,.4 .3,.4 .3,.4 .3,.4 .3,.3 .3,.3 .2,.4 .3,.3 .3,.3 .3,.2 .3,.3 .3,.3 .3,.2 .3,.2 .3,.3 .3,.2 .2,.2 .3,.2 .3,.1 .3,.2 .3,.2 .3,.1 .3,.2 .3,.1 .3,.2 .3,.1 .2,.1 .3,.1 .3,.1 .3,.1 .3,.1 .3,0 .3,.1 .3,0 .3,.1 .3,0 .2,.1 .3,0 .3,0 .3,0 .3,0 .3,0 .3,-.1 .3,0 .3,-.1 .3,0 .2,-.1 .3,-.1 .3,-.1 .3,-.2 .3,-.1 .3,-.2 .3,-.2 .3,-.2 .3,-.3 .3,-.3 .2,-.3 .3,-.4 .3,-.5 .3,-.5 .3,-.5 .3,-.7 .3,-.7 .3,-.8 .3,-.9 .3,-1.1 .2,-1.3 .3,-1.4 .3,-1.5 .3,-1.9 .3,-2.1 .3,-2.3 .3,-2.7 .3,-3 .3,-3.3 .3,-3.7 .2,-4.1 .3,-4.3 .3,-4.5 .3,-4.7 .3,-4.7 .3,-4.4 .3,-4 .3,-3.4 .3,-2.5 .2,-1.5 .3,-.4 .3,.7 .3,1.6 .3,2.8 .3,3.3 .3,3.9 .3,4.2 .3,4.2 .3,4.2 .2,4 .3,3.7 .3,3.4 .3,3.1 .3,2.6 .3,2.4 .3,2 .3,1.7 .3,1.4 .3,1.3 .2,.9 .3,.8 .3,.6 .3,.5 .3,.4 .3,.2 .3,.1 .3,0 .3,-.1 .3,-.1 .2,-.2 .3,-.3 .3,-.3 .3,-.4 .3,-.5 .3,-.5 .3,-.5 .3,-.6 .3,-.6 .3,-.7 .2,-.7 .3,-.8 .3,-.8 .3,-.9 .3,-.9 .3,-.9 .3,-1 .3,-1.1 .3,-1.1 .3,-1.2 .2,-1.2 .3,-1.3 .3,-1.3 .3,-1.4 .3,-1.5 .3,-1.6 .3,-1.6 .3,-1.7 .3,-1.8 .3,-1.9 .2,-1.9 .3,-2.1 .3,-2.2 .3,-2.3 .3,-2.4 .3,-2.5 .3,-2.6 .3,-2.8 .3,-2.9 .3,-3.1 .2,-3.2 .3,-3.4 .3,-3.5 .3,-3.7 .3,-4 .3,-4.1 .3,-4.3 .3,-4.5 .3,-4.8 .3,-5 .2,-5.1 .3,-5.5 .3,-5.6 .3,-5.9 .3,-6.1 .3,-6.3 .3,-6.5 .3,-6.7 .3,-6.8 .3,-7 .2,-7 .3,-7.1 .3,-7.1 .3,-7 .3,-6.8 .3,-6.7 .3,-6.3 .3,-5.9 .3,-5.4 .2,-4.9 .3,-4.2 .3,-3.5 .3,-2.2 .3,-.4 .3,0 .3,0 .3,0 .3,.3 .3,2.3 .2,3.4 .3,4.2 .3,4.9 .3,5.4 .3,6 .3,6.3 .3,6.7 .3,6.9 .3,7 .3,7.1 .2,7.2 .3,7.1 .3,7 .3,6.9 .3,6.7 .3,6.6 .3,6.4 .3,6.2 .3,5.9 .3,5.7 .2,5.5 .3,5.3 .3,5 .3,4.8 .3,4.7 .3,4.3 .3,4.2 .3,4 .3,3.8 .3,3.6 .2,3.5 .3,3.3 .3,3.1 .3,3 .3,2.9 .3,2.7 .3,2.6 .3,2.4 .3,2.4 .3,2.2 .2,2.2 .3,2 .3,2 .3,1.9 .3,1.8 .3,1.7 .3,1.6 .3,1.6 .3,1.5 .3,1.4 .2,1.4 .3,1.3 .3,1.3 .3,1.2 .3,1.2 .3,1.1 .3,1.1 .3,1 .3,1 .3,1 .2,.9 .3,.9 .3,.9 .3,.8 .3,.8 .3,.8 .3,.8 .3,.7 .3,.7 .3,.7 .2,.6 .3,.7 .3,.6 .3,.6 .3,.5 .3,.6 .3,.5 .3,.6 .3,.5 .3,.5 .2,.4 .3,.5 .3,.5 .3,.4 .3,.4 .3,.4 .3,.4 .3,.4 .3,.4 .2,.4 .3,.3 .3,.4 .3,.3 .3,.4 .3,.3 .3,.3 .3,.3 .3,.3 .3,.3 .2,.3 .3,.3 .3,.2 .3,.3 .3,.2 .3,.3 .3,.2 .3,.3 .3,.2 .3,.3 .2,.2 .3,.2 .3,.2 .3,.2 .3,.2 .3,.2 .3,.2 .3,.2 .3,.2 .3,.2 .2,.2 .3,.1 .3,.2 .3,.2 .3,.1 .3,.2 .3,.2 .3,.1 .3,.2 .3,.1 .2,.2 .3,.1 .3,.2 .3,.1 .3,.1 .3,.2 .3,.1 .3,.1 .3,.2 .3,.1 .2,.1 .3,.1 .3,.1 .3,.1 .3,.2 .3,.1 .3,.1 .3,.1 .3,.1 .3,.1 .2,.1 .3,.1 .3,.1 .3,.1 .3,.1 .3,.1 .3,.1 .3,.1 .3,.1 .3,0 .2,.1 .3,.1 .3,.1 .3,.1 .3,.1 .3,0 .3,.1 .3,.1 .3,.1 .3,0 .2,.1 .3,.1 .3,.1 .3,0 .3,.1 .3,.1 .3,0 .3,.1 .3,.1 .3,0 .2,.1 .3,0 .3,.1 .3,.1 .3,0 .3,.1 .3,0 .3,.1 .3,.1 .2,0 .3,.1 .3,0 .3,.1 .3,0 .3,.1 .3,0 .3,.1 .3,0 .3,.1 .2,0 .3,.1 .3,0 .3,.1 .3,0 .3,.1 .3,0 .3,.1 .3,0 .3,0 .2,.1 .3,0 .3,.1 .3,0 .3,0 .3,.1 .3,0 .3,.1 .3,0 .3,0 .2,.1 .3,0 .3,.1 .3,0 .3,0 .3,.1 .3,0 .3,0 .3,.1 .3,0 .2,0 .3,.1 .3,0 .3,0 .3,.1 .3,0 .3,0 .3,.1 .3,0 .3,0" fill="none" stroke="#e31414" stroke-width="1.5" marker-start="url(#m_cib)" marker-mid="url(#m_cib)" marker-end="url(#m_cib)"/>
<path d="M520.7,261.3l.6,-.4 .7,7.2 .7,1.9 .6,-11.1 .7,-5.5 .7,12.6 .7,.5 .6,-4.1 .7,-.8 .7,-4.8 .6,-10 .7,-.4 .7,3.3 .6,-6.5 .7,1.4 .7,-7.3 .6,-12.4 .7,-10.3 .7,-11.2 .7,-16.7 .6,-22.6 .7,-31.3 .7,-35.1 .6,-37 .7,-22.5 .7,4.9 .6,29.1 .7,38.1 .7,34.6 .6,28.7 .7,23.6 .7,15.4 .6,10.2 .7,2.3 .7,7.9 .7,-10.1 .6,-1 .7,-1 .7,-.2 .6,-1.9 .7,24.3 .7,-6.6 .6,4.9 .7,-19 .7,15 .6,-18.2 .7,47.1 .7,-19.3 .7,-7 .6,-14.4 .7,19.9 .7,-9.2 .6,5.4 .7,18.8 .7,-28.3 .6,-9.3 .7,45.4 .7,5.1 .6,-35.8 .7,11.4 .7,19.7 .6,4.6 .7,-20.7 .7,13.5 .7,7.6 .6,.9 .7,-17.2 .7,-19.5 .6,14.7 .7,-41.5 .7,-2.3 .6,12.1 .7,-10.1 .7,64.2 .6,-4.1 .7,4.2 .7,-15.6 .7,-27 .6,36 .7,-15.6 .7,-17.5 .6,6.1 .7,1.7 .7,24 .6,-34.1 .7,37.2 .7,-9.6 .6,-8.8 .7,-7.9 .7,2.2 .6,-16.6 .7,25 .7,-1.9 .7,1.4 .6,10.4 .7,-2.8 .7,13.2 .6,.7 .7,-4.5 .7,-39.9 .6,1.9 .7,29.1 .7,-29.1 .6,9.7 .7,29.6 .7,2.2 .7,.9 .6,-.1 .7,-15.4 .7,.7 .6,11 .7,-13.8 .7,-11.2 .6,-24.9 .7,25.2 .7,-4.4 .6,23.4 .7,-12.5 .7,-38.9 .7,12.6 .6,22.2 .7,13.9 .7,-48.5 .6,6.2 .7,-.1 .7,24.9 .6,-21.4 .7,6.5 .7,42.7 .6,.9 .7,-.1 .7,-4 .6,-16.9 .7,2.3 .7,18.1 .7,-26.1 .6,-7.8 .7,-15.5 .7,0 .6,27.6 .7,-27.6 .7,0 .6,0 .7,18.2 .7,12.4 .6,-5.5 .7,-25.1 .7,17 .7,22.1 .6,-15.3 .7,-5.5 .7,26.6 .6,.3 .7,-5.2 .7,-38.7 .6,26.2 .7,15.3 .7,-10.3 .6,-11.1 .7,-8.2 .7,-7 .6,2.1 .7,9.3 .7,-9 .7,.8 .6,27.7 .7,-5.8 .7,8.7 .6,-21 .7,-4.6 .7,-1 .6,0 .7,.8 .7,8.8 .6,.9 .7,4.2 .7,.1 .7,1.4 .6,.8 .7,-12.3 .7,4.8 .6,-9.5 .7,8.6 .7,-5.5 .6,-4.2 .7,-7.8 .7,-3.6 .6,-4.2 .7,-4.7 .7,-5.5 .6,-6.3 .7,-7 .7,-5.4 .7,-7 .6,-11.9 .7,-13.8 .7,-17.1 .6,-16 .7,-18 .7,-18.2 .6,-17.9 .7,-15 .7,-10.1 .6,-3.6 .7,3.5 .7,10.1 .7,15 .6,17.8 .7,18.3 .7,18.6 .6,16.5 .7,15.6 .7,9.8 .6,10.6 .7,9.4 .7,11.6 .6,2.7 .7,8.8 .7,1.5 .7,6.1 .6,1.2 .7,5.1 .7,-7.4 .6,12.1 .7,8.3 .7,-14.6 .6,19.3 .7,-4.1 .7,10.2 .6,-1.5 .7,1.1 .7,6.5 .6,-4.4 .7,6.4 .7,-16.6 .7,18.2 .6,-12.5 .7,13.1 .7,1.4 .6,-45 .7,-5.7 .7,45.2 .6,-11.1 .7,18.7 .7,-7.1 .6,-.5 .7,2.1 .7,-17.8 .7,17.4 .6,6.1 .7,-4.8 .7,5.9 .6,-20 .7,11.3 .7,-27.3 .6,-14.4 .7,25 .7,18.6 .6,5.4 .7,.3 .7,-.4 .6,-29.1 .7,4.1 .7,8.9 .7,-2.6 .6,-10.7 .7,10 .7,8.9 .6,-.7 .7,-21.6 .7,21 .6,-33.2 .7,10.6 .7,-27.2 .6,25.5 .7,8.3 .7,-5 .7,-9.3 .6,-13.5 .7,-4.7 .7,-15.7 .6,-12.5 .7,-15.4 .7,-16.8 .6,-7.4 .7,-6.2 .7,3.2 .6,12.5 .7,10.6 .7,17.2 .6,14.2 .7,5.7 .7,12.8 .7,8.4 .6,-3 .7,5.1 .7,1.5 .6,7.6 .7,5.8 .7,-3 .6,1.2 .7,-4.3 .7,-1.4 .6,-3.5 .7,-2.3 .7,3.1 .7,-1.5 .6,-2.1 .7,-6.4 .7,-7.4 .6,-10.7 .7,-10.9 .7,-9.8 .6,-16.4 .7,-17.9 .7,-20.8 .6,-23.6 .7,-25.5 .7,-25 .7,-20.9 .6,-11 .7,0 .7,6.1 .6,19.1 .7,24.5 .7,26.1 .6,24.4 .7,21 .7,19.5 .6,16.4 .7,12.3 .7,12.2 .6,10.1 .7,10.9 .7,8.6 .7,1.8 .6,8 .7,-1.3 .7,4.2 .6,1.8 .7,4.6 .7,4.9 .6,-.8 .7,4 .7,6.9 .6,1.6 .7,-.8 .7,.9 .7,1.8 .6,-.8 .7,-4.6 .7,5 .6,5.5 .7,-16.7 .7,18 .6,1 .7,-7.2 .7,6.2 .6,-5.6 .7,6.6 .7,-1.1 .6,-10.7 .7,-8.4 .7,20.9 .7,-9.4 .6,5.2 .7,7.9 .7,-10.4 .6,-7.5 .7,8.4 .7,-17.1 .6,.1 .7,0 .7,15.8 .6,6.2 .7,6.4 .7,-19.8 .7,6.3 .6,.5 .7,4.3 .7,2.1 .6,-16.5 .7,12.9 .7,.7 .6,-4.6 .7,-9 .7,16.1 .6,-2.4 .7,-9.7 .7,-.9 .6,5.2 .7,-2.5 .7,-4.7 .7,12.1 .6,-3.8 .7,-3.8 .7,10.6 .6,-7.3 .7,-7.3 .7,1.8 .6,7.4 .7,14.6 .7,-11.4" fill="none" stroke="#0c0ce6" stroke-width="1.3" stroke-linejoin="round" marker-start="url(#m_up)" marker-mid="url(#m_up)" marker-end="url(#m_up)"/>
<path d="M520.7,268.1l.6,1 .7,-.6 .7,-25.4 .6,5.3 .7,-19 .7,26.4 .7,3.5 .6,-11.2 .7,8.4 .7,-35 .6,25.3 .7,-23.5 .7,.9 .6,23.3 .7,-5.7 .7,-8.4 .6,-7.9 .7,-11.7 .7,-8.5 .7,-7.5 .6,-16.2 .7,-17.3 .7,-17.7 .6,-28.1 .7,-31.6 .7,-32.9 .6,-25.8 .7,-10 .7,10 .6,25.8 .7,32.9 .7,30.4 .6,25.3 .7,24.8 .7,15.6 .7,16.5 .6,4.2 .7,10.3 .7,14.7 .6,5.6 .7,-7.2 .7,-16 .6,36.4 .7,1.7 .7,1.1 .6,5.7 .7,2.9 .7,.2 .7,-48 .6,11.6 .7,2 .7,6.2 .6,31 .7,-18 .7,22.5 .6,-14.7 .7,-.5 .7,-13.7 .6,-8.5 .7,24 .7,-5 .6,-.8 .7,6.5 .7,-25.3 .7,17.5 .6,19.1 .7,-2.9 .7,-16.5 .6,6.1 .7,-16.6 .7,34.1 .6,-9.7 .7,-5.2 .7,-4.5 .6,-.5 .7,9.6 .7,.7 .7,15.2 .6,0 .7,-37.9 .7,-7.8 .6,17.1 .7,-8.3 .7,-3.5 .6,-9.4 .7,12.4 .7,-11.7 .6,24.7 .7,6.8 .7,-13.2 .6,-19 .7,15.1 .7,9.5 .7,-17.5 .6,-13.1 .7,2 .7,36.5 .6,3 .7,-16.5 .7,14.3 .6,17.5 .7,-13.6 .7,12.9 .6,-54.8 .7,2 .7,16.4 .7,-6.8 .6,27.2 .7,-25.1 .7,41.8 .6,-4.2 .7,-14.7 .7,16.2 .6,-48.4 .7,22.7 .7,-12 .6,-10.1 .7,7.2 .7,24.8 .7,-9.4 .6,22.3 .7,-19.7 .7,-9.2 .6,19.8 .7,-20.3 .7,31.3 .6,3.6 .7,-29.1 .7,2.5 .6,14.4 .7,9 .7,3 .6,-8.5 .7,-4.2 .7,3.2 .7,9.1 .6,-6.2 .7,-22.4 .7,-2.8 .6,5.1 .7,-22.6 .7,20.5 .6,-22.2 .7,-.8 .7,2.1 .6,15 .7,13 .7,8 .7,9.7 .6,-9.9 .7,-28.2 .7,32.1 .6,-30.2 .7,-15.7 .7,37 .6,16.8 .7,-28.1 .7,21.4 .6,-38 .7,40.3 .7,3.4 .6,-6 .7,1.3 .7,4 .7,-62.2 .6,1.3 .7,-4.4 .7,1.4 .6,1.4 .7,18.6 .7,27.3 .6,-5.4 .7,-35 .7,17.9 .6,22.3 .7,6.1 .7,-1 .7,-25.5 .6,1.1 .7,24.2 .7,-3.6 .6,-27.6 .7,-3.1 .7,4.9 .6,-4.2 .7,1.6 .7,13.4 .6,-2.3 .7,-2.3 .7,-7.8 .6,-5.2 .7,-1.4 .7,-10.5 .7,1.2 .6,-12.9 .7,-13.6 .7,-11.5 .6,-13.5 .7,-19 .7,-22.8 .6,-25.4 .7,-26.2 .7,-23.7 .6,-17.1 .7,-6.2 .7,6.2 .7,17.1 .6,23.7 .7,26.2 .7,24.7 .6,21.2 .7,21.7 .7,16.6 .6,12.7 .7,13.2 .7,6.3 .6,8.1 .7,5.1 .7,8.2 .7,4.3 .6,4 .7,-1.6 .7,9.5 .6,3.9 .7,-.3 .7,-.5 .6,.8 .7,-9 .7,-5.2 .6,5.6 .7,-5.6 .7,0 .6,0 .7,.2 .7,13.5 .7,-1.2 .6,.1 .7,9.2 .7,9.5 .6,-2.8 .7,-27.6 .7,31.1 .6,-8.7 .7,-1.3 .7,-1.5 .6,-4.8 .7,-2.4 .7,-3.6 .7,-9.7 .6,5.3 .7,22.7 .7,-3.9 .6,-18.3 .7,-5.8 .7,9.2 .6,19.4 .7,-4 .7,-14 .6,25.2 .7,.3 .7,.2 .6,.3 .7,.1 .7,-4.7 .7,-8.6 .6,13.5 .7,-2.4 .7,-.6 .6,-15.2 .7,-15.9 .7,19.4 .6,-6.7 .7,3.8 .7,-10.6 .6,27.8 .7,-1.2 .7,1.1 .7,-9.4 .6,-.8 .7,-21.2 .7,-5 .6,0 .7,13.6 .7,-13.4 .6,-24.7 .7,-31.3 .7,-5.3 .6,25.5 .7,28.9 .7,19.1 .6,10.5 .7,-5.2 .7,-15.8 .7,-1.9 .6,16 .7,-10.5 .7,19.3 .6,2 .7,-26.2 .7,12.4 .6,13.7 .7,-2.5 .7,-10.7 .6,8.4 .7,-3.8 .7,-10.9 .7,-4.8 .6,-1.3 .7,-11.3 .7,-7.4 .6,-12.1 .7,-15.5 .7,-18.9 .6,-20.3 .7,-21.9 .7,-27.2 .6,-27.7 .7,-26 .7,-20.8 .7,-12.4 .6,-1.9 .7,9.1 .7,18.4 .6,24.7 .7,27.6 .7,26.5 .6,24.8 .7,23.8 .7,19.8 .6,16.8 .7,7.4 .7,11.4 .6,13.4 .7,6.9 .7,2.7 .7,2.4 .6,-5.7 .7,-.8 .7,18.4 .6,2.7 .7,2.6 .7,-.7 .6,2.4 .7,.1 .7,1.9 .6,-2.2 .7,-29.3 .7,.1 .7,26.8 .6,-15 .7,-6.4 .7,.9 .6,-6.6 .7,25.1 .7,-3.1 .6,11 .7,2.8 .7,-14.3 .6,9.5 .7,-23.5 .7,-6.5 .6,1.9 .7,11.9 .7,-4.8 .7,-2.2 .6,-25.9 .7,.6 .7,40.8 .6,-5.3 .7,18.6 .7,-7.5 .6,7.6 .7,-2.9 .7,2.9 .6,-.9 .7,-25.9 .7,6.3 .7,5 .6,8.8 .7,-6 .7,-7.1 .6,-5.5 .7,-6 .7,19.6 .6,-4.1 .7,-2 .7,16.4 .6,1.7 .7,-6.8 .7,6.9 .6,0 .7,-23.8 .7,2 .7,3 .6,-9.2 .7,-3.7 .7,8.5 .6,-8.5 .7,0 .7,16.3 .6,1.9 .7,.6 .7,.9" fill="none" stroke="#e61ee6" stroke-width="1.3" stroke-linejoin="round" marker-start="url(#m_dn)" marker-mid="url(#m_dn)" marker-end="url(#m_dn)"/>
</g>
<g stroke="#000" stroke-width="2">
<line x1="50.0" y1="278.0" x2="56.5" y2="278.0" />
<line x1="50.0" y1="251.2" x2="54.0" y2="251.2" />
<line x1="50.0" y1="224.5" x2="56.5" y2="224.5" />
<line x1="50.0" y1="197.8" x2="54.0" y2="197.8" />
<line x1="50.0" y1="171.0" x2="56.5" y2="171.0" />
<line x1="50.0" y1="144.2" x2="54.0" y2="144.2" />
<line x1="50.0" y1="117.5" x2="56.5" y2="117.5" />
<line x1="50.0" y1="90.8" x2="54.0" y2="90.8" />
<line x1="50.0" y1="64.0" x2="56.5" y2="64.0" />
<line x1="50.0" y1="37.2" x2="54.0" y2="37.2" />
<line x1="50.0" y1="10.5" x2="56.5" y2="10.5" />
<line x1="50.0" y1="278.0" x2="50.0" y2="271.5" />
<line x1="105.7" y1="278.0" x2="105.7" y2="274.0" />
<line x1="161.3" y1="278.0" x2="161.3" y2="271.5" />
<line x1="217.0" y1="278.0" x2="217.0" y2="274.0" />
<line x1="272.7" y1="278.0" x2="272.7" y2="271.5" />
<line x1="328.3" y1="278.0" x2="328.3" y2="274.0" />
<line x1="384.0" y1="278.0" x2="384.0" y2="271.5" />
<rect x="50.0" y="10.5" width="334.0" height="267.5" fill="none" stroke="#000" stroke-width="2.4"/>
<line x1="456.0" y1="278.0" x2="462.5" y2="278.0" />
<line x1="456.0" y1="251.2" x2="460.0" y2="251.2" />
<line x1="456.0" y1="224.5" x2="462.5" y2="224.5" />
<line x1="456.0" y1="197.8" x2="460.0" y2="197.8" />
<line x1="456.0" y1="171.0" x2="462.5" y2="171.0" />
<line x1="456.0" y1="144.2" x2="460.0" y2="144.2" />
<line x1="456.0" y1="117.5" x2="462.5" y2="117.5" />
<line x1="456.0" y1="90.8" x2="460.0" y2="90.8" />
<line x1="456.0" y1="64.0" x2="462.5" y2="64.0" />
<line x1="456.0" y1="37.2" x2="460.0" y2="37.2" />
<line x1="456.0" y1="10.5" x2="462.5" y2="10.5" />
<line x1="456.0" y1="278.0" x2="456.0" y2="271.5" />
<line x1="511.8" y1="278.0" x2="511.8" y2="274.0" />
<line x1="567.5" y1="278.0" x2="567.5" y2="271.5" />
<line x1="623.2" y1="278.0" x2="623.2" y2="274.0" />
<line x1="679.0" y1="278.0" x2="679.0" y2="271.5" />
<line x1="734.8" y1="278.0" x2="734.8" y2="274.0" />
<line x1="790.5" y1="278.0" x2="790.5" y2="271.5" />
<rect x="456.0" y="10.5" width="334.5" height="267.5" fill="none" stroke="#000" stroke-width="2.4"/>
</g>
<text x="42.5" y="283.2" text-anchor="end" class="tl">0.0</text>
<text x="42.5" y="229.7" text-anchor="end" class="tl">0.2</text>
<text x="42.5" y="176.2" text-anchor="end" class="tl">0.4</text>
<text x="42.5" y="122.7" text-anchor="end" class="tl">0.6</text>
<text x="42.5" y="69.2" text-anchor="end" class="tl">0.8</text>
<text x="42.5" y="15.7" text-anchor="end" class="tl">1.0</text>
<text x="50.0" y="297" text-anchor="middle" class="tl">5</text>
<text x="161.3" y="297" text-anchor="middle" class="tl">10</text>
<text x="272.7" y="297" text-anchor="middle" class="tl">15</text>
<text x="384.0" y="297" text-anchor="middle" class="tl">20</text>
<text x="217.6" y="328.5" text-anchor="middle" class="al">Frequency (GHz)</text>
<text transform="translate(14.4,143.1) rotate(-90)" text-anchor="middle" class="al2">Absorptivity</text>
<text x="1" y="14.5" class="pl">a</text>
<text x="448.5" y="283.2" text-anchor="end" class="tl">0.0</text>
<text x="448.5" y="229.7" text-anchor="end" class="tl">0.2</text>
<text x="448.5" y="176.2" text-anchor="end" class="tl">0.4</text>
<text x="448.5" y="122.7" text-anchor="end" class="tl">0.6</text>
<text x="448.5" y="69.2" text-anchor="end" class="tl">0.8</text>
<text x="448.5" y="15.7" text-anchor="end" class="tl">1.0</text>
<text x="456.0" y="297" text-anchor="middle" class="tl">5</text>
<text x="567.5" y="297" text-anchor="middle" class="tl">10</text>
<text x="679.0" y="297" text-anchor="middle" class="tl">15</text>
<text x="790.5" y="297" text-anchor="middle" class="tl">20</text>
<text x="623.9" y="328.5" text-anchor="middle" class="al">Frequency (GHz)</text>
<text transform="translate(420.4,143.1) rotate(-90)" text-anchor="middle" class="al2">Absorptivity</text>
<text x="407.5" y="14.5" class="pl">b</text>
<line x1="133" y1="17.6" x2="160.7" y2="17.6" stroke="#000" stroke-width="1.6"/>
<rect x="145.04999999999998" y="15.8" width="3.6" height="3.6" fill="#000"/>
<text x="163.5" y="21.6" class="lg">θ=30 °(Sim)</text>
<line x1="133" y1="32.7" x2="160.7" y2="32.7" stroke="#e31414" stroke-width="1.6"/>
<circle cx="146.85" cy="32.7" r="2" fill="#e31414"/>
<text x="163.5" y="36.7" class="lg">θ=60 °(Sim)</text>
<line x1="133" y1="47.8" x2="160.7" y2="47.8" stroke="#0c0ce6" stroke-width="1.6"/>
<path d="M146.85,45.4l2.3,3.8h-4.6z" fill="#0c0ce6"/>
<text x="163.5" y="51.8" class="lg">θ=30 °(Exp)</text>
<line x1="133" y1="62.5" x2="160.7" y2="62.5" stroke="#e61ee6" stroke-width="1.6"/>
<path d="M146.85,64.9l2.3,-3.8h-4.6z" fill="#e61ee6"/>
<text x="163.5" y="66.5" class="lg">θ=60 °(Exp)</text>
<line x1="545.2" y1="21" x2="572.6" y2="21" stroke="#000" stroke-width="1.6"/>
<rect x="557.1000000000001" y="19.2" width="3.6" height="3.6" fill="#000"/>
<text x="575.5" y="25" class="lg">θ=30 °(Sim)</text>
<line x1="545.2" y1="35.8" x2="572.6" y2="35.8" stroke="#e31414" stroke-width="1.6"/>
<circle cx="558.9000000000001" cy="35.8" r="2" fill="#e31414"/>
<text x="575.5" y="39.8" class="lg">θ=60 °(Sim)</text>
<line x1="545.2" y1="50.5" x2="572.6" y2="50.5" stroke="#0c0ce6" stroke-width="1.6"/>
<path d="M558.9000000000001,48.1l2.3,3.8h-4.6z" fill="#0c0ce6"/>
<text x="575.5" y="54.5" class="lg">θ=30 °(Exp)</text>
<line x1="545.2" y1="65.4" x2="572.6" y2="65.4" stroke="#e61ee6" stroke-width="1.6"/>
<path d="M558.9000000000001,67.80000000000001l2.3,-3.8h-4.6z" fill="#e61ee6"/>
<text x="575.5" y="69.4" class="lg">θ=60 °(Exp)</text>
</svg>
</body></html>
